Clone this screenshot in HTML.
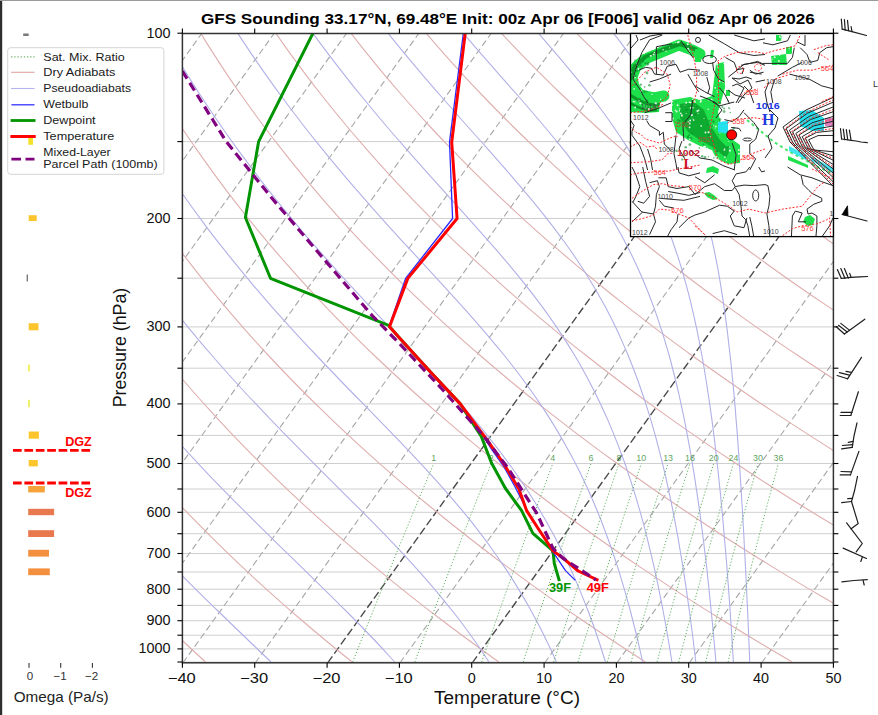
<!DOCTYPE html><html><head><meta charset="utf-8"><style>html,body{margin:0;padding:0;background:#fff;overflow:hidden}svg{display:block}text{font-family:"Liberation Sans",sans-serif}</style></head><body>
<svg width="878" height="715" viewBox="0 0 878 715">
<rect x="0" y="0" width="878" height="715" fill="#fff"/>
<defs><clipPath id="pc"><rect x="182.4" y="33.5" width="651" height="629.3"/></clipPath></defs>
<g clip-path="url(#pc)">
<line x1="182.4" y1="33.2" x2="833.4" y2="33.2" stroke="#cfcfcf" stroke-width="1"/>
<line x1="182.4" y1="141.6" x2="833.4" y2="141.6" stroke="#cfcfcf" stroke-width="1"/>
<line x1="182.4" y1="218.5" x2="833.4" y2="218.5" stroke="#cfcfcf" stroke-width="1"/>
<line x1="182.4" y1="278.2" x2="833.4" y2="278.2" stroke="#cfcfcf" stroke-width="1"/>
<line x1="182.4" y1="326.9" x2="833.4" y2="326.9" stroke="#cfcfcf" stroke-width="1"/>
<line x1="182.4" y1="368.2" x2="833.4" y2="368.2" stroke="#cfcfcf" stroke-width="1"/>
<line x1="182.4" y1="403.9" x2="833.4" y2="403.9" stroke="#cfcfcf" stroke-width="1"/>
<line x1="182.4" y1="435.4" x2="833.4" y2="435.4" stroke="#cfcfcf" stroke-width="1"/>
<line x1="182.4" y1="463.5" x2="833.4" y2="463.5" stroke="#cfcfcf" stroke-width="1"/>
<line x1="182.4" y1="489" x2="833.4" y2="489" stroke="#cfcfcf" stroke-width="1"/>
<line x1="182.4" y1="512.3" x2="833.4" y2="512.3" stroke="#cfcfcf" stroke-width="1"/>
<line x1="182.4" y1="533.7" x2="833.4" y2="533.7" stroke="#cfcfcf" stroke-width="1"/>
<line x1="182.4" y1="553.5" x2="833.4" y2="553.5" stroke="#cfcfcf" stroke-width="1"/>
<line x1="182.4" y1="572" x2="833.4" y2="572" stroke="#cfcfcf" stroke-width="1"/>
<line x1="182.4" y1="589.2" x2="833.4" y2="589.2" stroke="#cfcfcf" stroke-width="1"/>
<line x1="182.4" y1="605.4" x2="833.4" y2="605.4" stroke="#cfcfcf" stroke-width="1"/>
<line x1="182.4" y1="620.7" x2="833.4" y2="620.7" stroke="#cfcfcf" stroke-width="1"/>
<line x1="182.4" y1="635.2" x2="833.4" y2="635.2" stroke="#cfcfcf" stroke-width="1"/>
<line x1="182.4" y1="648.9" x2="833.4" y2="648.9" stroke="#cfcfcf" stroke-width="1"/>
<line x1="182.4" y1="662" x2="833.4" y2="662" stroke="#cfcfcf" stroke-width="1"/>
<line x1="-540.3" y1="662.8" x2="-87.6" y2="33.5" stroke="#a6a6a6" stroke-width="1.1" stroke-dasharray="6.5 3.5"/>
<line x1="-468" y1="662.8" x2="-15.3" y2="33.5" stroke="#a6a6a6" stroke-width="1.1" stroke-dasharray="6.5 3.5"/>
<line x1="-395.7" y1="662.8" x2="57.1" y2="33.5" stroke="#a6a6a6" stroke-width="1.1" stroke-dasharray="6.5 3.5"/>
<line x1="-323.3" y1="662.8" x2="129.4" y2="33.5" stroke="#a6a6a6" stroke-width="1.1" stroke-dasharray="6.5 3.5"/>
<line x1="-251" y1="662.8" x2="201.7" y2="33.5" stroke="#a6a6a6" stroke-width="1.1" stroke-dasharray="6.5 3.5"/>
<line x1="-178.7" y1="662.8" x2="274.1" y2="33.5" stroke="#a6a6a6" stroke-width="1.1" stroke-dasharray="6.5 3.5"/>
<line x1="-106.3" y1="662.8" x2="346.4" y2="33.5" stroke="#a6a6a6" stroke-width="1.1" stroke-dasharray="6.5 3.5"/>
<line x1="-34" y1="662.8" x2="418.7" y2="33.5" stroke="#a6a6a6" stroke-width="1.1" stroke-dasharray="6.5 3.5"/>
<line x1="38.3" y1="662.8" x2="491.1" y2="33.5" stroke="#a6a6a6" stroke-width="1.1" stroke-dasharray="6.5 3.5"/>
<line x1="110.7" y1="662.8" x2="563.4" y2="33.5" stroke="#a6a6a6" stroke-width="1.1" stroke-dasharray="6.5 3.5"/>
<line x1="183" y1="662.8" x2="635.7" y2="33.5" stroke="#a6a6a6" stroke-width="1.1" stroke-dasharray="6.5 3.5"/>
<line x1="255.3" y1="662.8" x2="708.1" y2="33.5" stroke="#a6a6a6" stroke-width="1.1" stroke-dasharray="6.5 3.5"/>
<line x1="327.7" y1="662.8" x2="780.4" y2="33.5" stroke="#4a4a4a" stroke-width="1.4" stroke-dasharray="8 3.3"/>
<line x1="400" y1="662.8" x2="852.7" y2="33.5" stroke="#a6a6a6" stroke-width="1.1" stroke-dasharray="6.5 3.5"/>
<line x1="472.3" y1="662.8" x2="925.1" y2="33.5" stroke="#4a4a4a" stroke-width="1.4" stroke-dasharray="8 3.3"/>
<line x1="544.7" y1="662.8" x2="997.4" y2="33.5" stroke="#a6a6a6" stroke-width="1.1" stroke-dasharray="6.5 3.5"/>
<line x1="617" y1="662.8" x2="1069.7" y2="33.5" stroke="#a6a6a6" stroke-width="1.1" stroke-dasharray="6.5 3.5"/>
<line x1="689.3" y1="662.8" x2="1142.1" y2="33.5" stroke="#a6a6a6" stroke-width="1.1" stroke-dasharray="6.5 3.5"/>
<line x1="761.7" y1="662.8" x2="1214.4" y2="33.5" stroke="#a6a6a6" stroke-width="1.1" stroke-dasharray="6.5 3.5"/>
<line x1="834" y1="662.8" x2="1286.7" y2="33.5" stroke="#a6a6a6" stroke-width="1.1" stroke-dasharray="6.5 3.5"/>
<polyline fill="none" stroke="#dfaeae" stroke-width="1.1" points="205.5,662 194.1,651.5 182.9,641 171.9,630.5 161.1,620 150.6,609.6 140.2,599.1 130,588.6 120.1,578.1 110.3,567.6 100.7,557.2 91.3,546.7 82.1,536.2 73.1,525.7 64.2,515.2 55.6,504.8 47.1,494.3 38.8,483.8 30.7,473.3 22.7,462.8 14.9,452.4 7.3,441.9 -0.1,431.4 -7.4,420.9 -14.5,410.4 -21.5,400 -28.3,389.5 -34.9,379 -41.4,368.5 -47.7,358 -53.8,347.6 -59.9,337.1 -65.7,326.6 -71.4,316.1 -77,305.6 -82.4,295.2 -87.7,284.7 -92.8,274.2 -97.8,263.7 -102.7,253.2 -107.4,242.8 -112,232.3 -116.4,221.8 -120.8,211.3 -124.9,200.8 -129,190.4 -132.9,179.9 -136.7,169.4 -140.4,158.9 -143.9,148.4 -147.4,138 -150.7,127.5 -153.8,117 -156.9,106.5 -159.9,96 -162.7,85.6 -165.4,75.1 -168,64.6 -170.5,54.1 -172.9,43.6 -175.1,33.2"/>
<polyline fill="none" stroke="#dfaeae" stroke-width="1.1" points="352.2,662 339.1,651.5 326.3,641 313.8,630.5 301.4,620 289.3,609.6 277.4,599.1 265.7,588.6 254.2,578.1 243,567.6 231.9,557.2 221.1,546.7 210.4,536.2 200,525.7 189.7,515.2 179.7,504.8 169.8,494.3 160.1,483.8 150.7,473.3 141.4,462.8 132.3,452.4 123.4,441.9 114.7,431.4 106.1,420.9 97.7,410.4 89.5,400 81.5,389.5 73.7,379 66,368.5 58.5,358 51.2,347.6 44,337.1 37,326.6 30.1,316.1 23.4,305.6 16.9,295.2 10.5,284.7 4.3,274.2 -1.8,263.7 -7.7,253.2 -13.5,242.8 -19.1,232.3 -24.6,221.8 -29.9,211.3 -35.1,200.8 -40.2,190.4 -45.1,179.9 -49.8,169.4 -54.5,158.9 -59,148.4 -63.3,138 -67.6,127.5 -71.7,117 -75.7,106.5 -79.5,96 -83.2,85.6 -86.8,75.1 -90.3,64.6 -93.6,54.1 -96.9,43.6 -100,33.2"/>
<polyline fill="none" stroke="#dfaeae" stroke-width="1.1" points="498.8,662 484.2,651.5 469.8,641 455.6,630.5 441.7,620 428,609.6 414.6,599.1 401.4,588.6 388.4,578.1 375.7,567.6 363.1,557.2 350.8,546.7 338.7,536.2 326.9,525.7 315.2,515.2 303.8,504.8 292.5,494.3 281.5,483.8 270.7,473.3 260.1,462.8 249.7,452.4 239.5,441.9 229.4,431.4 219.6,420.9 210,410.4 200.6,400 191.3,389.5 182.2,379 173.4,368.5 164.7,358 156.1,347.6 147.8,337.1 139.6,326.6 131.7,316.1 123.8,305.6 116.2,295.2 108.7,284.7 101.4,274.2 94.3,263.7 87.3,253.2 80.4,242.8 73.8,232.3 67.3,221.8 60.9,211.3 54.7,200.8 48.7,190.4 42.8,179.9 37,169.4 31.4,158.9 26,148.4 20.7,138 15.5,127.5 10.5,117 5.6,106.5 0.9,96 -3.8,85.6 -8.2,75.1 -12.6,64.6 -16.8,54.1 -20.9,43.6 -24.8,33.2"/>
<polyline fill="none" stroke="#dfaeae" stroke-width="1.1" points="645.5,662 629.3,651.5 613.3,641 597.5,630.5 582,620 566.8,609.6 551.8,599.1 537.1,588.6 522.6,578.1 508.3,567.6 494.3,557.2 480.6,546.7 467.1,536.2 453.8,525.7 440.7,515.2 427.9,504.8 415.3,494.3 402.9,483.8 390.7,473.3 378.8,462.8 367.1,452.4 355.5,441.9 344.2,431.4 333.1,420.9 322.3,410.4 311.6,400 301.1,389.5 290.8,379 280.7,368.5 270.8,358 261.1,347.6 251.6,337.1 242.3,326.6 233.2,316.1 224.3,305.6 215.5,295.2 206.9,284.7 198.5,274.2 190.3,263.7 182.2,253.2 174.4,242.8 166.7,232.3 159.1,221.8 151.8,211.3 144.6,200.8 137.5,190.4 130.6,179.9 123.9,169.4 117.4,158.9 110.9,148.4 104.7,138 98.6,127.5 92.7,117 86.9,106.5 81.2,96 75.7,85.6 70.4,75.1 65.1,64.6 60.1,54.1 55.1,43.6 50.3,33.2"/>
<polyline fill="none" stroke="#dfaeae" stroke-width="1.1" points="792.2,662 774.3,651.5 756.7,641 739.4,630.5 722.3,620 705.5,609.6 689,599.1 672.7,588.6 656.8,578.1 641,567.6 625.6,557.2 610.3,546.7 595.4,536.2 580.7,525.7 566.2,515.2 552,504.8 538,494.3 524.3,483.8 510.7,473.3 497.5,462.8 484.4,452.4 471.6,441.9 459,431.4 446.7,420.9 434.5,410.4 422.6,400 410.9,389.5 399.4,379 388.1,368.5 377,358 366.1,347.6 355.5,337.1 345,326.6 334.7,316.1 324.7,305.6 314.8,295.2 305.1,284.7 295.6,274.2 286.3,263.7 277.2,253.2 268.3,242.8 259.5,232.3 251,221.8 242.6,211.3 234.4,200.8 226.3,190.4 218.5,179.9 210.8,169.4 203.3,158.9 195.9,148.4 188.7,138 181.7,127.5 174.8,117 168.1,106.5 161.6,96 155.2,85.6 148.9,75.1 142.9,64.6 136.9,54.1 131.1,43.6 125.5,33.2"/>
<polyline fill="none" stroke="#dfaeae" stroke-width="1.1" points="938.9,662 919.4,651.5 900.2,641 881.2,630.5 862.6,620 844.3,609.6 826.2,599.1 808.4,588.6 790.9,578.1 773.7,567.6 756.8,557.2 740.1,546.7 723.7,536.2 707.6,525.7 691.7,515.2 676.1,504.8 660.7,494.3 645.6,483.8 630.8,473.3 616.2,462.8 601.8,452.4 587.7,441.9 573.8,431.4 560.2,420.9 546.8,410.4 533.6,400 520.7,389.5 507.9,379 495.5,368.5 483.2,358 471.1,347.6 459.3,337.1 447.7,326.6 436.3,316.1 425.1,305.6 414.1,295.2 403.3,284.7 392.8,274.2 382.4,263.7 372.2,253.2 362.2,242.8 352.4,232.3 342.8,221.8 333.4,211.3 324.2,200.8 315.2,190.4 306.3,179.9 297.7,169.4 289.2,158.9 280.9,148.4 272.7,138 264.8,127.5 257,117 249.4,106.5 241.9,96 234.6,85.6 227.5,75.1 220.6,64.6 213.8,54.1 207.1,43.6 200.7,33.2"/>
<polyline fill="none" stroke="#dfaeae" stroke-width="1.1" points="1085.6,662 1064.5,651.5 1043.6,641 1023.1,630.5 1002.9,620 983,609.6 963.4,599.1 944.1,588.6 925.1,578.1 906.4,567.6 888,557.2 869.9,546.7 852,536.2 834.5,525.7 817.2,515.2 800.2,504.8 783.5,494.3 767,483.8 750.8,473.3 734.9,462.8 719.2,452.4 703.8,441.9 688.6,431.4 673.7,420.9 659,410.4 644.6,400 630.4,389.5 616.5,379 602.8,368.5 589.4,358 576.1,347.6 563.1,337.1 550.4,326.6 537.8,316.1 525.5,305.6 513.4,295.2 501.5,284.7 489.9,274.2 478.4,263.7 467.2,253.2 456.1,242.8 445.3,232.3 434.7,221.8 424.3,211.3 414,200.8 404,190.4 394.2,179.9 384.5,169.4 375.1,158.9 365.8,148.4 356.8,138 347.9,127.5 339.2,117 330.6,106.5 322.3,96 314.1,85.6 306.1,75.1 298.3,64.6 290.6,54.1 283.1,43.6 275.8,33.2"/>
<polyline fill="none" stroke="#dfaeae" stroke-width="1.1" points="1232.3,662 1209.5,651.5 1187.1,641 1165,630.5 1143.2,620 1121.7,609.6 1100.6,599.1 1079.8,588.6 1059.3,578.1 1039.1,567.6 1019.2,557.2 999.6,546.7 980.4,536.2 961.4,525.7 942.7,515.2 924.3,504.8 906.2,494.3 888.4,483.8 870.8,473.3 853.6,462.8 836.6,452.4 819.8,441.9 803.4,431.4 787.2,420.9 771.3,410.4 755.6,400 740.2,389.5 725.1,379 710.2,368.5 695.5,358 681.1,347.6 667,337.1 653.1,326.6 639.4,316.1 625.9,305.6 612.7,295.2 599.7,284.7 587,274.2 574.5,263.7 562.2,253.2 550.1,242.8 538.2,232.3 526.5,221.8 515.1,211.3 503.9,200.8 492.8,190.4 482,179.9 471.4,169.4 461,158.9 450.8,148.4 440.8,138 430.9,127.5 421.3,117 411.9,106.5 402.6,96 393.6,85.6 384.7,75.1 376,64.6 367.5,54.1 359.1,43.6 351,33.2"/>
<polyline fill="none" stroke="#dfaeae" stroke-width="1.1" points="1379,662 1354.6,651.5 1330.5,641 1306.8,630.5 1283.5,620 1260.5,609.6 1237.8,599.1 1215.5,588.6 1193.5,578.1 1171.8,567.6 1150.4,557.2 1129.4,546.7 1108.7,536.2 1088.3,525.7 1068.2,515.2 1048.4,504.8 1028.9,494.3 1009.7,483.8 990.8,473.3 972.2,462.8 953.9,452.4 935.9,441.9 918.2,431.4 900.7,420.9 883.6,410.4 866.7,400 850,389.5 833.7,379 817.6,368.5 801.7,358 786.1,347.6 770.8,337.1 755.7,326.6 740.9,316.1 726.4,305.6 712,295.2 697.9,284.7 684.1,274.2 670.5,263.7 657.1,253.2 644,242.8 631.1,232.3 618.4,221.8 605.9,211.3 593.7,200.8 581.7,190.4 569.9,179.9 558.3,169.4 546.9,158.9 535.7,148.4 524.8,138 514,127.5 503.5,117 493.1,106.5 483,96 473,85.6 463.3,75.1 453.7,64.6 444.3,54.1 435.1,43.6 426.1,33.2"/>
<polyline fill="none" stroke="#dfaeae" stroke-width="1.1" points="1525.7,662 1499.6,651.5 1474,641 1448.7,630.5 1423.8,620 1399.2,609.6 1375,599.1 1351.1,588.6 1327.6,578.1 1304.5,567.6 1281.6,557.2 1259.2,546.7 1237,536.2 1215.2,525.7 1193.7,515.2 1172.5,504.8 1151.6,494.3 1131.1,483.8 1110.9,473.3 1090.9,462.8 1071.3,452.4 1052,441.9 1033,431.4 1014.3,420.9 995.8,410.4 977.7,400 959.8,389.5 942.2,379 924.9,368.5 907.9,358 891.1,347.6 874.6,337.1 858.4,326.6 842.5,316.1 826.8,305.6 811.3,295.2 796.2,284.7 781.2,274.2 766.5,263.7 752.1,253.2 737.9,242.8 724,232.3 710.2,221.8 696.8,211.3 683.5,200.8 670.5,190.4 657.7,179.9 645.2,169.4 632.8,158.9 620.7,148.4 608.8,138 597.1,127.5 585.7,117 574.4,106.5 563.3,96 552.5,85.6 541.9,75.1 531.4,64.6 521.2,54.1 511.1,43.6 501.3,33.2"/>
<polyline fill="none" stroke="#dfaeae" stroke-width="1.1" points="1672.4,662 1644.7,651.5 1617.4,641 1590.6,630.5 1564.1,620 1537.9,609.6 1512.2,599.1 1486.8,588.6 1461.8,578.1 1437.2,567.6 1412.9,557.2 1388.9,546.7 1365.3,536.2 1342.1,525.7 1319.2,515.2 1296.6,504.8 1274.4,494.3 1252.5,483.8 1230.9,473.3 1209.6,462.8 1188.7,452.4 1168.1,441.9 1147.8,431.4 1127.8,420.9 1108.1,410.4 1088.7,400 1069.6,389.5 1050.8,379 1032.3,368.5 1014.1,358 996.1,347.6 978.5,337.1 961.1,326.6 944,316.1 927.2,305.6 910.6,295.2 894.4,284.7 878.3,274.2 862.6,263.7 847.1,253.2 831.8,242.8 816.8,232.3 802.1,221.8 787.6,211.3 773.4,200.8 759.3,190.4 745.6,179.9 732,169.4 718.7,158.9 705.7,148.4 692.8,138 680.2,127.5 667.8,117 655.6,106.5 643.7,96 632,85.6 620.4,75.1 609.1,64.6 598,54.1 587.1,43.6 576.4,33.2"/>
<polyline fill="none" stroke="#dfaeae" stroke-width="1.1" points="1819,662 1789.8,651.5 1760.9,641 1732.4,630.5 1704.4,620 1676.7,609.6 1649.4,599.1 1622.5,588.6 1596,578.1 1569.8,567.6 1544.1,557.2 1518.7,546.7 1493.7,536.2 1469,525.7 1444.7,515.2 1420.7,504.8 1397.1,494.3 1373.8,483.8 1350.9,473.3 1328.3,462.8 1306.1,452.4 1284.2,441.9 1262.6,431.4 1241.3,420.9 1220.3,410.4 1199.7,400 1179.4,389.5 1159.4,379 1139.6,368.5 1120.2,358 1101.1,347.6 1082.3,337.1 1063.8,326.6 1045.6,316.1 1027.6,305.6 1010,295.2 992.6,284.7 975.5,274.2 958.6,263.7 942.1,253.2 925.8,242.8 909.7,232.3 894,221.8 878.4,211.3 863.2,200.8 848.2,190.4 833.4,179.9 818.9,169.4 804.6,158.9 790.6,148.4 776.8,138 763.3,127.5 750,117 736.9,106.5 724,96 711.4,85.6 699,75.1 686.8,64.6 674.9,54.1 663.1,43.6 651.6,33.2"/>
<polyline fill="none" stroke="#dfaeae" stroke-width="1.1" points="1965.7,662 1934.8,651.5 1904.3,641 1874.3,630.5 1844.6,620 1815.4,609.6 1786.6,599.1 1758.2,588.6 1730.2,578.1 1702.5,567.6 1675.3,557.2 1648.4,546.7 1622,536.2 1595.9,525.7 1570.2,515.2 1544.8,504.8 1519.8,494.3 1495.2,483.8 1470.9,473.3 1447,462.8 1423.5,452.4 1400.2,441.9 1377.3,431.4 1354.8,420.9 1332.6,410.4 1310.7,400 1289.2,389.5 1267.9,379 1247,368.5 1226.4,358 1206.1,347.6 1186.2,337.1 1166.5,326.6 1147.1,316.1 1128,305.6 1109.3,295.2 1090.8,284.7 1072.6,274.2 1054.7,263.7 1037,253.2 1019.7,242.8 1002.6,232.3 985.8,221.8 969.3,211.3 953,200.8 937,190.4 921.3,179.9 905.8,169.4 890.6,158.9 875.6,148.4 860.9,138 846.4,127.5 832.2,117 818.2,106.5 804.4,96 790.9,85.6 777.6,75.1 764.5,64.6 751.7,54.1 739.1,43.6 726.7,33.2"/>
<polyline fill="none" stroke="#b0b0e8" stroke-width="1.1" points="-138.1,33.2 -136.3,40.1 -134.5,47.1 -132.7,54.1 -130.8,61.1 -128.8,68.1 -126.8,75.1 -124.8,82.1 -122.7,89.1 -120.5,96 -118.3,103 -116.1,110 -113.8,117 -111.4,124 -109,131 -106.6,138 -104.1,144.9 -101.5,151.9 -98.9,158.9 -96.3,165.9 -93.5,172.9 -90.8,179.9 -87.9,186.9 -85,193.9 -82.1,200.8 -79.1,207.8 -76,214.8 -72.8,221.8 -69.6,228.8 -66.4,235.8 -63,242.8 -59.6,249.7 -56.1,256.7 -52.6,263.7 -49,270.7 -45.3,277.7 -41.6,284.7 -37.8,291.7 -33.9,298.7 -29.9,305.6 -25.9,312.6 -21.8,319.6 -17.6,326.6 -13.4,333.6 -9,340.6 -4.6,347.6 -0.2,354.5 4.4,361.5 9,368.5 13.7,375.5 18.5,382.5 23.4,389.5 28.4,396.5 33.4,403.4 38.5,410.4 43.7,417.4 48.9,424.4 54.3,431.4 59.7,438.4 65.2,445.4 70.8,452.4 76.5,459.3 82.2,466.3 88,473.3 94,480.3 99.9,487.3 106,494.3 112.1,501.3 118.4,508.2 124.7,515.2 131,522.2 137.5,529.2 144,536.2 150.6,543.2 157.3,550.2 164,557.2 170.8,564.1 177.7,571.1 184.6,578.1 191.6,585.1 198.6,592.1 205.7,599.1 212.9,606.1 220.1,613 227.3,620 234.5,627 241.8,634 249.1,641 256.4,648 263.7,655 271.1,662"/>
<polyline fill="none" stroke="#b0b0e8" stroke-width="1.1" points="-63,33.2 -60.6,40.1 -58.2,47.1 -55.8,54.1 -53.3,61.1 -50.8,68.1 -48.2,75.1 -45.6,82.1 -42.9,89.1 -40.2,96 -37.4,103 -34.5,110 -31.6,117 -28.7,124 -25.6,131 -22.6,138 -19.5,144.9 -16.3,151.9 -13,158.9 -9.7,165.9 -6.3,172.9 -2.9,179.9 0.6,186.9 4.1,193.9 7.8,200.8 11.4,207.8 15.2,214.8 19,221.8 22.9,228.8 26.9,235.8 30.9,242.8 35,249.7 39.2,256.7 43.4,263.7 47.7,270.7 52.1,277.7 56.6,284.7 61.2,291.7 65.8,298.7 70.5,305.6 75.3,312.6 80.1,319.6 85,326.6 90.1,333.6 95.2,340.6 100.3,347.6 105.6,354.5 110.9,361.5 116.4,368.5 121.9,375.5 127.5,382.5 133.1,389.5 138.9,396.5 144.7,403.4 150.6,410.4 156.6,417.4 162.7,424.4 168.9,431.4 175.1,438.4 181.4,445.4 187.8,452.4 194.3,459.3 200.8,466.3 207.4,473.3 214.1,480.3 220.9,487.3 227.7,494.3 234.6,501.3 241.5,508.2 248.5,515.2 255.5,522.2 262.6,529.2 269.7,536.2 276.8,543.2 284,550.2 291.2,557.2 298.4,564.1 305.6,571.1 312.7,578.1 319.9,585.1 327,592.1 334.1,599.1 341.1,606.1 348.1,613 355,620 361.9,627 368.6,634 375.3,641 381.9,648 388.3,655 394.7,662"/>
<polyline fill="none" stroke="#b0b0e8" stroke-width="1.1" points="12.2,33.2 15.1,40.1 18,47.1 21,54.1 24.1,61.1 27.2,68.1 30.4,75.1 33.6,82.1 36.9,89.1 40.2,96 43.6,103 47,110 50.5,117 54.1,124 57.7,131 61.4,138 65.2,144.9 69,151.9 72.9,158.9 76.8,165.9 80.9,172.9 84.9,179.9 89.1,186.9 93.3,193.9 97.6,200.8 101.9,207.8 106.4,214.8 110.9,221.8 115.4,228.8 120.1,235.8 124.8,242.8 129.6,249.7 134.5,256.7 139.5,263.7 144.5,270.7 149.6,277.7 154.8,284.7 160.1,291.7 165.4,298.7 170.8,305.6 176.4,312.6 181.9,319.6 187.6,326.6 193.4,333.6 199.2,340.6 205.1,347.6 211.2,354.5 217.2,361.5 223.4,368.5 229.6,375.5 236,382.5 242.3,389.5 248.8,396.5 255.4,403.4 262,410.4 268.6,417.4 275.4,424.4 282.1,431.4 289,438.4 295.9,445.4 302.8,452.4 309.8,459.3 316.8,466.3 323.8,473.3 330.8,480.3 337.8,487.3 344.8,494.3 351.8,501.3 358.8,508.2 365.7,515.2 372.6,522.2 379.5,529.2 386.3,536.2 393,543.2 399.6,550.2 406.1,557.2 412.5,564.1 418.8,571.1 425,578.1 431.1,585.1 437,592.1 442.8,599.1 448.5,606.1 454.1,613 459.5,620 464.7,627 469.9,634 474.8,641 479.7,648 484.4,655 489,662"/>
<polyline fill="none" stroke="#b0b0e8" stroke-width="1.1" points="87.4,33.2 90.8,40.1 94.3,47.1 97.9,54.1 101.5,61.1 105.2,68.1 108.9,75.1 112.8,82.1 116.6,89.1 120.5,96 124.5,103 128.6,110 132.7,117 136.9,124 141.1,131 145.5,138 149.8,144.9 154.3,151.9 158.8,158.9 163.4,165.9 168,172.9 172.8,179.9 177.6,186.9 182.4,193.9 187.4,200.8 192.4,207.8 197.5,214.8 202.7,221.8 207.9,228.8 213.3,235.8 218.7,242.8 224.2,249.7 229.7,256.7 235.4,263.7 241.1,270.7 246.9,277.7 252.7,284.7 258.7,291.7 264.7,298.7 270.8,305.6 277,312.6 283.3,319.6 289.6,326.6 296,333.6 302.5,340.6 309,347.6 315.6,354.5 322.2,361.5 328.9,368.5 335.6,375.5 342.3,382.5 349.1,389.5 355.9,396.5 362.8,403.4 369.6,410.4 376.4,417.4 383.2,424.4 390,431.4 396.8,438.4 403.5,445.4 410.2,452.4 416.7,459.3 423.3,466.3 429.7,473.3 436,480.3 442.3,487.3 448.4,494.3 454.4,501.3 460.3,508.2 466,515.2 471.7,522.2 477.1,529.2 482.5,536.2 487.7,543.2 492.8,550.2 497.7,557.2 502.5,564.1 507.2,571.1 511.7,578.1 516.1,585.1 520.3,592.1 524.5,599.1 528.5,606.1 532.3,613 536.1,620 539.8,627 543.3,634 546.7,641 550.1,648 553.3,655 556.4,662"/>
<polyline fill="none" stroke="#b0b0e8" stroke-width="1.1" points="162.5,33.2 166.5,40.1 170.6,47.1 174.7,54.1 178.9,61.1 183.2,68.1 187.5,75.1 191.9,82.1 196.4,89.1 200.9,96 205.5,103 210.1,110 214.9,117 219.7,124 224.5,131 229.4,138 234.4,144.9 239.5,151.9 244.7,158.9 249.9,165.9 255.2,172.9 260.5,179.9 266,186.9 271.5,193.9 277.1,200.8 282.7,207.8 288.5,214.8 294.3,221.8 300.1,228.8 306.1,235.8 312.1,242.8 318.2,249.7 324.4,256.7 330.6,263.7 336.9,270.7 343.2,277.7 349.6,284.7 356.1,291.7 362.6,298.7 369.1,305.6 375.7,312.6 382.3,319.6 388.9,326.6 395.5,333.6 402.1,340.6 408.8,347.6 415.4,354.5 421.9,361.5 428.5,368.5 435,375.5 441.4,382.5 447.8,389.5 454.1,396.5 460.3,403.4 466.4,410.4 472.4,417.4 478.2,424.4 484,431.4 489.6,438.4 495.1,445.4 500.5,452.4 505.8,459.3 510.9,466.3 515.8,473.3 520.6,480.3 525.3,487.3 529.9,494.3 534.3,501.3 538.6,508.2 542.7,515.2 546.7,522.2 550.6,529.2 554.4,536.2 558,543.2 561.6,550.2 565,557.2 568.3,564.1 571.6,571.1 574.7,578.1 577.7,585.1 580.6,592.1 583.4,599.1 586.2,606.1 588.9,613 591.4,620 594,627 596.4,634 598.8,641 601.1,648 603.3,655 605.5,662"/>
<polyline fill="none" stroke="#b0b0e8" stroke-width="1.1" points="237.7,33.2 242.2,40.1 246.9,47.1 251.6,54.1 256.4,61.1 261.2,68.1 266.1,75.1 271.1,82.1 276.1,89.1 281.2,96 286.4,103 291.6,110 297,117 302.3,124 307.8,131 313.3,138 318.9,144.9 324.6,151.9 330.3,158.9 336.1,165.9 342,172.9 347.9,179.9 353.9,186.9 360,193.9 366.1,200.8 372.2,207.8 378.5,214.8 384.7,221.8 391.1,228.8 397.4,235.8 403.8,242.8 410.2,249.7 416.7,256.7 423.1,263.7 429.6,270.7 436,277.7 442.4,284.7 448.8,291.7 455.2,298.7 461.5,305.6 467.8,312.6 474,319.6 480.1,326.6 486.1,333.6 492,340.6 497.8,347.6 503.6,354.5 509.1,361.5 514.6,368.5 519.9,375.5 525.1,382.5 530.2,389.5 535.1,396.5 539.9,403.4 544.5,410.4 549,417.4 553.4,424.4 557.6,431.4 561.7,438.4 565.7,445.4 569.6,452.4 573.3,459.3 576.9,466.3 580.4,473.3 583.7,480.3 587,487.3 590.1,494.3 593.2,501.3 596.1,508.2 599,515.2 601.8,522.2 604.4,529.2 607,536.2 609.6,543.2 612,550.2 614.4,557.2 616.7,564.1 618.9,571.1 621,578.1 623.1,585.1 625.2,592.1 627.1,599.1 629.1,606.1 630.9,613 632.7,620 634.5,627 636.2,634 637.9,641 639.5,648 641.1,655 642.6,662"/>
<polyline fill="none" stroke="#b0b0e8" stroke-width="1.1" points="312.8,33.2 317.9,40.1 323.1,47.1 328.4,54.1 333.7,61.1 339.1,68.1 344.6,75.1 350.1,82.1 355.7,89.1 361.4,96 367.1,103 372.9,110 378.7,117 384.6,124 390.6,131 396.6,138 402.7,144.9 408.8,151.9 415,158.9 421.2,165.9 427.4,172.9 433.7,179.9 440,186.9 446.3,193.9 452.6,200.8 458.9,207.8 465.2,214.8 471.5,221.8 477.7,228.8 483.9,235.8 490.1,242.8 496.1,249.7 502.1,256.7 508.1,263.7 513.9,270.7 519.6,277.7 525.2,284.7 530.7,291.7 536.1,298.7 541.4,305.6 546.5,312.6 551.4,319.6 556.3,326.6 560.9,333.6 565.5,340.6 569.9,347.6 574.1,354.5 578.3,361.5 582.3,368.5 586.1,375.5 589.8,382.5 593.4,389.5 596.9,396.5 600.3,403.4 603.5,410.4 606.7,417.4 609.7,424.4 612.6,431.4 615.4,438.4 618.2,445.4 620.8,452.4 623.4,459.3 625.9,466.3 628.2,473.3 630.6,480.3 632.8,487.3 635,494.3 637.1,501.3 639.1,508.2 641.1,515.2 643,522.2 644.9,529.2 646.7,536.2 648.4,543.2 650.1,550.2 651.8,557.2 653.4,564.1 655,571.1 656.5,578.1 658,585.1 659.4,592.1 660.8,599.1 662.2,606.1 663.5,613 664.8,620 666.1,627 667.3,634 668.5,641 669.7,648 670.8,655 671.9,662"/>
<polyline fill="none" stroke="#b0b0e8" stroke-width="1.1" points="388,33.2 393.6,40.1 399.3,47.1 405.1,54.1 410.9,61.1 416.8,68.1 422.7,75.1 428.7,82.1 434.7,89.1 440.8,96 446.9,103 453.1,110 459.2,117 465.4,124 471.6,131 477.9,138 484.1,144.9 490.3,151.9 496.5,158.9 502.6,165.9 508.7,172.9 514.7,179.9 520.7,186.9 526.6,193.9 532.5,200.8 538.2,207.8 543.8,214.8 549.3,221.8 554.7,228.8 559.9,235.8 565,242.8 570,249.7 574.9,256.7 579.5,263.7 584.1,270.7 588.5,277.7 592.7,284.7 596.8,291.7 600.8,298.7 604.6,305.6 608.3,312.6 611.9,319.6 615.3,326.6 618.6,333.6 621.8,340.6 624.8,347.6 627.8,354.5 630.6,361.5 633.4,368.5 636,375.5 638.6,382.5 641,389.5 643.4,396.5 645.7,403.4 647.9,410.4 650.1,417.4 652.1,424.4 654.1,431.4 656.1,438.4 657.9,445.4 659.7,452.4 661.5,459.3 663.2,466.3 664.9,473.3 666.5,480.3 668,487.3 669.5,494.3 671,501.3 672.4,508.2 673.8,515.2 675.1,522.2 676.4,529.2 677.7,536.2 678.9,543.2 680.1,550.2 681.3,557.2 682.5,564.1 683.6,571.1 684.6,578.1 685.7,585.1 686.7,592.1 687.7,599.1 688.7,606.1 689.7,613 690.6,620 691.5,627 692.4,634 693.3,641 694.1,648 695,655 695.8,662"/>
<polyline fill="none" stroke="#b0b0e8" stroke-width="1.1" points="463.1,33.2 469.2,40.1 475.2,47.1 481.3,54.1 487.5,61.1 493.6,68.1 499.7,75.1 505.9,82.1 512,89.1 518.2,96 524.3,103 530.3,110 536.3,117 542.3,124 548.2,131 553.9,138 559.6,144.9 565.2,151.9 570.7,158.9 576.1,165.9 581.3,172.9 586.4,179.9 591.3,186.9 596.1,193.9 600.8,200.8 605.2,207.8 609.6,214.8 613.8,221.8 617.8,228.8 621.7,235.8 625.4,242.8 629,249.7 632.5,256.7 635.8,263.7 639,270.7 642.1,277.7 645,284.7 647.9,291.7 650.6,298.7 653.2,305.6 655.7,312.6 658.1,319.6 660.4,326.6 662.7,333.6 664.8,340.6 666.9,347.6 668.9,354.5 670.8,361.5 672.6,368.5 674.4,375.5 676.1,382.5 677.8,389.5 679.4,396.5 680.9,403.4 682.4,410.4 683.9,417.4 685.3,424.4 686.6,431.4 687.9,438.4 689.2,445.4 690.5,452.4 691.7,459.3 692.8,466.3 694,473.3 695.1,480.3 696.1,487.3 697.2,494.3 698.2,501.3 699.2,508.2 700.2,515.2 701.1,522.2 702,529.2 702.9,536.2 703.8,543.2 704.6,550.2 705.5,557.2 706.3,564.1 707.1,571.1 707.8,578.1 708.6,585.1 709.3,592.1 710,599.1 710.7,606.1 711.4,613 712.1,620 712.8,627 713.4,634 714,641 714.7,648 715.3,655 715.9,662"/>
<polyline fill="none" stroke="#b0b0e8" stroke-width="1.1" points="538.3,33.2 544.4,40.1 550.4,47.1 556.4,54.1 562.4,61.1 568.2,68.1 574,75.1 579.8,82.1 585.4,89.1 590.9,96 596.3,103 601.5,110 606.6,117 611.6,124 616.4,131 621.1,138 625.6,144.9 630,151.9 634.2,158.9 638.2,165.9 642.1,172.9 645.9,179.9 649.4,186.9 652.9,193.9 656.2,200.8 659.3,207.8 662.3,214.8 665.2,221.8 668,228.8 670.6,235.8 673.1,242.8 675.5,249.7 677.9,256.7 680.1,263.7 682.2,270.7 684.2,277.7 686.1,284.7 688,291.7 689.8,298.7 691.5,305.6 693.1,312.6 694.7,319.6 696.2,326.6 697.7,333.6 699.1,340.6 700.4,347.6 701.7,354.5 703,361.5 704.2,368.5 705.3,375.5 706.5,382.5 707.5,389.5 708.6,396.5 709.6,403.4 710.6,410.4 711.6,417.4 712.5,424.4 713.4,431.4 714.3,438.4 715.1,445.4 715.9,452.4 716.7,459.3 717.5,466.3 718.3,473.3 719,480.3 719.7,487.3 720.5,494.3 721.1,501.3 721.8,508.2 722.5,515.2 723.1,522.2 723.7,529.2 724.3,536.2 724.9,543.2 725.5,550.2 726.1,557.2 726.7,564.1 727.2,571.1 727.7,578.1 728.3,585.1 728.8,592.1 729.3,599.1 729.8,606.1 730.3,613 730.7,620 731.2,627 731.7,634 732.1,641 732.5,648 733,655 733.4,662"/>
<polyline fill="none" stroke="#b0b0e8" stroke-width="1.1" points="613.4,33.2 618.9,40.1 624.1,47.1 629.3,54.1 634.3,61.1 639.1,68.1 643.8,75.1 648.3,82.1 652.7,89.1 656.9,96 660.9,103 664.8,110 668.5,117 672.1,124 675.5,131 678.7,138 681.8,144.9 684.8,151.9 687.6,158.9 690.3,165.9 692.9,172.9 695.3,179.9 697.6,186.9 699.8,193.9 701.9,200.8 703.9,207.8 705.9,214.8 707.7,221.8 709.4,228.8 711,235.8 712.6,242.8 714.1,249.7 715.5,256.7 716.9,263.7 718.2,270.7 719.4,277.7 720.6,284.7 721.7,291.7 722.8,298.7 723.8,305.6 724.8,312.6 725.8,319.6 726.7,326.6 727.6,333.6 728.4,340.6 729.2,347.6 730,354.5 730.8,361.5 731.5,368.5 732.2,375.5 732.9,382.5 733.5,389.5 734.2,396.5 734.8,403.4 735.4,410.4 735.9,417.4 736.5,424.4 737.1,431.4 737.6,438.4 738.1,445.4 738.6,452.4 739.1,459.3 739.6,466.3 740.1,473.3 740.5,480.3 741,487.3 741.4,494.3 741.8,501.3 742.3,508.2 742.7,515.2 743.1,522.2 743.5,529.2 743.9,536.2 744.2,543.2 744.6,550.2 745,557.2 745.3,564.1 745.7,571.1 746,578.1 746.4,585.1 746.7,592.1 747,599.1 747.4,606.1 747.7,613 748,620 748.3,627 748.6,634 748.9,641 749.2,648 749.5,655 749.7,662"/>
<polyline fill="none" stroke="#5fb05f" stroke-width="1" stroke-dasharray="1.2 2" points="352.7,662 356.6,652 360.5,642.1 364.5,632.2 368.5,622.3 372.5,612.4 376.5,602.4 380.5,592.5 384.5,582.6 388.5,572.7 392.6,562.8 396.6,552.8 400.7,542.9 404.8,533 408.9,523.1 413,513.1 417.1,503.2 421.2,493.3 425.4,483.4 429.5,473.5 433.7,463.5"/>
<polyline fill="none" stroke="#5fb05f" stroke-width="1" stroke-dasharray="1.2 2" points="414.8,662 418.5,652 422.2,642.1 425.9,632.2 429.7,622.3 433.4,612.4 437.2,602.4 440.9,592.5 444.7,582.6 448.5,572.7 452.3,562.8 456.2,552.8 460,542.9 463.8,533 467.7,523.1 471.6,513.1 475.5,503.2 479.4,493.3 483.3,483.4 487.2,473.5 491.2,463.5"/>
<polyline fill="none" stroke="#5fb05f" stroke-width="1" stroke-dasharray="1.2 2" points="481.7,662 485.1,652 488.5,642.1 492,632.2 495.4,622.3 498.9,612.4 502.4,602.4 505.9,592.5 509.4,582.6 513,572.7 516.5,562.8 520.1,552.8 523.7,542.9 527.3,533 530.9,523.1 534.5,513.1 538.1,503.2 541.8,493.3 545.5,483.4 549.1,473.5 552.8,463.5"/>
<polyline fill="none" stroke="#5fb05f" stroke-width="1" stroke-dasharray="1.2 2" points="523.2,662 526.4,652 529.7,642.1 532.9,632.2 536.2,622.3 539.5,612.4 542.8,602.4 546.2,592.5 549.5,582.6 552.9,572.7 556.3,562.8 559.7,552.8 563.1,542.9 566.5,533 570,523.1 573.4,513.1 576.9,503.2 580.4,493.3 583.9,483.4 587.4,473.5 591,463.5"/>
<polyline fill="none" stroke="#5fb05f" stroke-width="1" stroke-dasharray="1.2 2" points="553.7,662 556.8,652 559.9,642.1 563.1,632.2 566.2,622.3 569.4,612.4 572.6,602.4 575.8,592.5 579,582.6 582.3,572.7 585.5,562.8 588.8,552.8 592.1,542.9 595.4,533 598.7,523.1 602.1,513.1 605.4,503.2 608.8,493.3 612.2,483.4 615.6,473.5 619,463.5"/>
<polyline fill="none" stroke="#5fb05f" stroke-width="1" stroke-dasharray="1.2 2" points="578,662 581,652 584,642.1 587.1,632.2 590.1,622.3 593.2,612.4 596.3,602.4 599.4,592.5 602.5,582.6 605.6,572.7 608.8,562.8 612,552.8 615.2,542.9 618.4,533 621.6,523.1 624.8,513.1 628.1,503.2 631.4,493.3 634.7,483.4 638,473.5 641.3,463.5"/>
<polyline fill="none" stroke="#5fb05f" stroke-width="1" stroke-dasharray="1.2 2" points="607.3,662 610.2,652 613.1,642.1 616,632.2 618.9,622.3 621.8,612.4 624.8,602.4 627.8,592.5 630.8,582.6 633.8,572.7 636.8,562.8 639.9,552.8 642.9,542.9 646,533 649.1,523.1 652.3,513.1 655.4,503.2 658.6,493.3 661.7,483.4 664.9,473.5 668.1,463.5"/>
<polyline fill="none" stroke="#5fb05f" stroke-width="1" stroke-dasharray="1.2 2" points="631.1,662 633.8,652 636.6,642.1 639.4,632.2 642.2,622.3 645,612.4 647.9,602.4 650.8,592.5 653.7,582.6 656.6,572.7 659.5,562.8 662.5,552.8 665.4,542.9 668.4,533 671.4,523.1 674.5,513.1 677.5,503.2 680.6,493.3 683.7,483.4 686.8,473.5 689.9,463.5"/>
<polyline fill="none" stroke="#5fb05f" stroke-width="1" stroke-dasharray="1.2 2" points="657.1,662 659.7,652 662.4,642.1 665.1,632.2 667.8,622.3 670.5,612.4 673.2,602.4 676,592.5 678.8,582.6 681.6,572.7 684.4,562.8 687.2,552.8 690.1,542.9 693,533 695.9,523.1 698.8,513.1 701.7,503.2 704.7,493.3 707.7,483.4 710.7,473.5 713.7,463.5"/>
<polyline fill="none" stroke="#5fb05f" stroke-width="1" stroke-dasharray="1.2 2" points="678.8,662 681.3,652 683.9,642.1 686.4,632.2 689,622.3 691.7,612.4 694.3,602.4 697,592.5 699.7,582.6 702.4,572.7 705.1,562.8 707.8,552.8 710.6,542.9 713.4,533 716.2,523.1 719,513.1 721.9,503.2 724.7,493.3 727.6,483.4 730.5,473.5 733.4,463.5"/>
<polyline fill="none" stroke="#5fb05f" stroke-width="1" stroke-dasharray="1.2 2" points="705.7,662 708.1,652 710.6,642.1 713,632.2 715.5,622.3 718,612.4 720.5,602.4 723.1,592.5 725.6,582.6 728.2,572.7 730.8,562.8 733.5,552.8 736.1,542.9 738.8,533 741.5,523.1 744.2,513.1 746.9,503.2 749.7,493.3 752.4,483.4 755.2,473.5 758,463.5"/>
<polyline fill="none" stroke="#5fb05f" stroke-width="1" stroke-dasharray="1.2 2" points="728.1,662 730.4,652 732.8,642.1 735.1,632.2 737.5,622.3 739.9,612.4 742.3,602.4 744.7,592.5 747.2,582.6 749.7,572.7 752.2,562.8 754.7,552.8 757.3,542.9 759.8,533 762.4,523.1 765,513.1 767.7,503.2 770.3,493.3 773,483.4 775.7,473.5 778.4,463.5"/>
</g>
<text x="433.7" y="461.3" font-size="8.9" fill="#5fa55f" text-anchor="middle">1</text>
<text x="491.2" y="461.3" font-size="8.9" fill="#5fa55f" text-anchor="middle">2</text>
<text x="552.8" y="461.3" font-size="8.9" fill="#5fa55f" text-anchor="middle">4</text>
<text x="591" y="461.3" font-size="8.9" fill="#5fa55f" text-anchor="middle">6</text>
<text x="619" y="461.3" font-size="8.9" fill="#5fa55f" text-anchor="middle">8</text>
<text x="641.3" y="461.3" font-size="8.9" fill="#5fa55f" text-anchor="middle">10</text>
<text x="668.1" y="461.3" font-size="8.9" fill="#5fa55f" text-anchor="middle">13</text>
<text x="689.9" y="461.3" font-size="8.9" fill="#5fa55f" text-anchor="middle">16</text>
<text x="713.7" y="461.3" font-size="8.9" fill="#5fa55f" text-anchor="middle">20</text>
<text x="733.4" y="461.3" font-size="8.9" fill="#5fa55f" text-anchor="middle">24</text>
<text x="758" y="461.3" font-size="8.9" fill="#5fa55f" text-anchor="middle">30</text>
<text x="778.4" y="461.3" font-size="8.9" fill="#5fa55f" text-anchor="middle">36</text>
<g clip-path="url(#pc)" fill="none" stroke-linejoin="round">
<polyline stroke="#009400" stroke-width="3" points="312.8,33.5 258.6,141.7 245.4,217.5 270.5,278.3 388.6,325.4 400,338.5 430,371.5 460.1,403.6 481.3,436.4 491.4,462.8 505.2,488 521.6,510.6 532.9,533.3 553,550.9 554.3,563.5 559.4,581.1"/>
<polyline stroke="#2a2aff" stroke-width="1.3" points="463.3,33.5 449.5,142.2 452.6,218.5 405.6,278.4 389,326.8 400,338.5 430,371.5 460.1,403.6 484,437 491.3,449 504,467 515,486.7 526.3,509 540.3,531.5 552,550.5 565.5,570.6 575.3,580.4"/>
<polyline stroke="#ff0000" stroke-width="3" points="465.2,33.5 451.7,142.2 457.1,218.5 407.8,278.4 389.5,326.8 400,338.5 430,371.5 460.1,403.6 486.7,439.3 504,464 519,489.2 526.6,510.6 538,528.2 553,550.9 561.9,557.2 578.2,571 598.4,580.3"/>
<polyline stroke="#800080" stroke-width="3.2" stroke-dasharray="9 5" points="182.3,71 226.3,141.6 272.4,198.8 372.2,315.6 401.4,345.6 442,389 484,436.5 507.8,467.8 536.7,513.1 553,548.4 563.1,558.4 595.8,579.8"/>
</g>
<text x="560" y="592.4" font-size="12.8" font-weight="bold" fill="#009400" text-anchor="middle">39F</text>
<text x="597.7" y="592.4" font-size="12.8" font-weight="bold" fill="#ff0000" text-anchor="middle">49F</text>
<rect x="182.4" y="33.5" width="651" height="629.3" fill="none" stroke="#333" stroke-width="1.5"/>
<g stroke="#000" stroke-width="1.1">
<line x1="177.4" y1="33.2" x2="182.4" y2="33.2"/>
<line x1="833.4" y1="33.2" x2="838.4" y2="33.2"/>
<line x1="177.4" y1="141.6" x2="182.4" y2="141.6"/>
<line x1="833.4" y1="141.6" x2="838.4" y2="141.6"/>
<line x1="177.4" y1="218.5" x2="182.4" y2="218.5"/>
<line x1="833.4" y1="218.5" x2="838.4" y2="218.5"/>
<line x1="177.4" y1="278.2" x2="182.4" y2="278.2"/>
<line x1="833.4" y1="278.2" x2="838.4" y2="278.2"/>
<line x1="177.4" y1="326.9" x2="182.4" y2="326.9"/>
<line x1="833.4" y1="326.9" x2="838.4" y2="326.9"/>
<line x1="177.4" y1="368.2" x2="182.4" y2="368.2"/>
<line x1="833.4" y1="368.2" x2="838.4" y2="368.2"/>
<line x1="177.4" y1="403.9" x2="182.4" y2="403.9"/>
<line x1="833.4" y1="403.9" x2="838.4" y2="403.9"/>
<line x1="177.4" y1="435.4" x2="182.4" y2="435.4"/>
<line x1="833.4" y1="435.4" x2="838.4" y2="435.4"/>
<line x1="177.4" y1="463.5" x2="182.4" y2="463.5"/>
<line x1="833.4" y1="463.5" x2="838.4" y2="463.5"/>
<line x1="177.4" y1="489" x2="182.4" y2="489"/>
<line x1="833.4" y1="489" x2="838.4" y2="489"/>
<line x1="177.4" y1="512.3" x2="182.4" y2="512.3"/>
<line x1="833.4" y1="512.3" x2="838.4" y2="512.3"/>
<line x1="177.4" y1="533.7" x2="182.4" y2="533.7"/>
<line x1="833.4" y1="533.7" x2="838.4" y2="533.7"/>
<line x1="177.4" y1="553.5" x2="182.4" y2="553.5"/>
<line x1="833.4" y1="553.5" x2="838.4" y2="553.5"/>
<line x1="177.4" y1="572" x2="182.4" y2="572"/>
<line x1="833.4" y1="572" x2="838.4" y2="572"/>
<line x1="177.4" y1="589.2" x2="182.4" y2="589.2"/>
<line x1="833.4" y1="589.2" x2="838.4" y2="589.2"/>
<line x1="177.4" y1="605.4" x2="182.4" y2="605.4"/>
<line x1="833.4" y1="605.4" x2="838.4" y2="605.4"/>
<line x1="177.4" y1="620.7" x2="182.4" y2="620.7"/>
<line x1="833.4" y1="620.7" x2="838.4" y2="620.7"/>
<line x1="177.4" y1="635.2" x2="182.4" y2="635.2"/>
<line x1="833.4" y1="635.2" x2="838.4" y2="635.2"/>
<line x1="177.4" y1="648.9" x2="182.4" y2="648.9"/>
<line x1="833.4" y1="648.9" x2="838.4" y2="648.9"/>
<line x1="177.4" y1="662" x2="182.4" y2="662"/>
<line x1="833.4" y1="662" x2="838.4" y2="662"/>
<line x1="182.4" y1="662.8" x2="182.4" y2="667.8"/>
<line x1="182.4" y1="28.5" x2="182.4" y2="33.5"/>
<line x1="254.7" y1="662.8" x2="254.7" y2="667.8"/>
<line x1="254.7" y1="28.5" x2="254.7" y2="33.5"/>
<line x1="327.1" y1="662.8" x2="327.1" y2="667.8"/>
<line x1="327.1" y1="28.5" x2="327.1" y2="33.5"/>
<line x1="399.4" y1="662.8" x2="399.4" y2="667.8"/>
<line x1="399.4" y1="28.5" x2="399.4" y2="33.5"/>
<line x1="471.7" y1="662.8" x2="471.7" y2="667.8"/>
<line x1="471.7" y1="28.5" x2="471.7" y2="33.5"/>
<line x1="544.1" y1="662.8" x2="544.1" y2="667.8"/>
<line x1="544.1" y1="28.5" x2="544.1" y2="33.5"/>
<line x1="616.4" y1="662.8" x2="616.4" y2="667.8"/>
<line x1="616.4" y1="28.5" x2="616.4" y2="33.5"/>
<line x1="688.7" y1="662.8" x2="688.7" y2="667.8"/>
<line x1="688.7" y1="28.5" x2="688.7" y2="33.5"/>
<line x1="761.1" y1="662.8" x2="761.1" y2="667.8"/>
<line x1="761.1" y1="28.5" x2="761.1" y2="33.5"/>
<line x1="833.4" y1="662.8" x2="833.4" y2="667.8"/>
<line x1="833.4" y1="28.5" x2="833.4" y2="33.5"/>
</g>
<g font-size="14.4" fill="#111">
<text x="170.4" y="37.7" text-anchor="end">100</text>
<text x="170.4" y="223" text-anchor="end">200</text>
<text x="170.4" y="331.4" text-anchor="end">300</text>
<text x="170.4" y="408.4" text-anchor="end">400</text>
<text x="170.4" y="468" text-anchor="end">500</text>
<text x="170.4" y="516.8" text-anchor="end">600</text>
<text x="170.4" y="558" text-anchor="end">700</text>
<text x="170.4" y="593.7" text-anchor="end">800</text>
<text x="170.4" y="625.2" text-anchor="end">900</text>
<text x="170.4" y="653.4" text-anchor="end">1000</text>
<text x="167.8" y="682.8" textLength="28" lengthAdjust="spacingAndGlyphs">−40</text>
<text x="240.1" y="682.8" textLength="28" lengthAdjust="spacingAndGlyphs">−30</text>
<text x="312.5" y="682.8" textLength="28" lengthAdjust="spacingAndGlyphs">−20</text>
<text x="384.8" y="682.8" textLength="28" lengthAdjust="spacingAndGlyphs">−10</text>
<text x="471.7" y="682.8" text-anchor="middle">0</text>
<text x="544.1" y="682.8" text-anchor="middle">10</text>
<text x="616.4" y="682.8" text-anchor="middle">20</text>
<text x="688.7" y="682.8" text-anchor="middle">30</text>
<text x="761.1" y="682.8" text-anchor="middle">40</text>
<text x="833.4" y="682.8" text-anchor="middle">50</text>
</g>
<text x="434" y="704" font-size="17.6" fill="#111" textLength="146" lengthAdjust="spacingAndGlyphs">Temperature (°C)</text>
<text transform="translate(126.2,407.3) rotate(-90)" font-size="17.6" fill="#111" textLength="119.5" lengthAdjust="spacingAndGlyphs">Pressure (hPa)</text>
<text x="507.9" y="23.5" font-size="14" font-weight="bold" fill="#000" text-anchor="middle" textLength="614" lengthAdjust="spacingAndGlyphs">GFS Sounding 33.17°N, 69.48°E Init: 00z Apr 06 [F006] valid 06z Apr 06 2026</text>
<rect x="0" y="0" width="2.2" height="715" fill="#2e2e2e"/>
<rect x="0" y="0" width="878" height="1" fill="#9a9a9a"/>
<rect x="7.7" y="47.7" width="156.2" height="126.6" rx="3" ry="3" fill="#fff" fill-opacity="0.8" stroke="#d4d4d4" stroke-width="1"/>
<g font-size="11.6" fill="#1a1a1a">
<text x="43.3" y="60.6" textLength="81.4" lengthAdjust="spacingAndGlyphs">Sat. Mix. Ratio</text>
<text x="43.3" y="76.4" textLength="72" lengthAdjust="spacingAndGlyphs">Dry Adiabats</text>
<text x="43.3" y="92.4" textLength="87.7" lengthAdjust="spacingAndGlyphs">Pseudoadiabats</text>
<text x="43.3" y="108.1" textLength="45" lengthAdjust="spacingAndGlyphs">Wetbulb</text>
<text x="43.3" y="124.2" textLength="52.3" lengthAdjust="spacingAndGlyphs">Dewpoint</text>
<text x="43.3" y="140.2" textLength="71" lengthAdjust="spacingAndGlyphs">Temperature</text>
<text x="43.3" y="155.5" textLength="67.4" lengthAdjust="spacingAndGlyphs">Mixed-Layer</text>
<text x="43.3" y="167.5" textLength="114.4" lengthAdjust="spacingAndGlyphs">Parcel Path (100mb)</text>
</g>
<line x1="11" y1="56.8" x2="34.6" y2="56.8" stroke="#6db56d" stroke-width="1.2" stroke-dasharray="1.3 1.9"/>
<line x1="11" y1="72.3" x2="34.6" y2="72.3" stroke="#e3a6a6" stroke-width="1.1"/>
<line x1="11" y1="88.5" x2="34.6" y2="88.5" stroke="#b4b4ee" stroke-width="1.1"/>
<line x1="11.4" y1="104.8" x2="34.5" y2="104.8" stroke="#3333ff" stroke-width="1.3"/>
<line x1="10.6" y1="120.5" x2="35.5" y2="120.5" stroke="#009400" stroke-width="2.8"/>
<line x1="10.6" y1="136.5" x2="35.5" y2="136.5" stroke="#ff0000" stroke-width="2.8"/>
<line x1="11.4" y1="159.1" x2="34.5" y2="159.1" stroke="#800080" stroke-width="2.8" stroke-dasharray="9.6 4.5"/>
<rect x="23.2" y="33.5" width="5.5" height="2.5" fill="#7a7a7a"/>
<rect x="28.3" y="137.4" width="4.7" height="7.4" fill="#f0e22a"/>
<rect x="28.7" y="215.2" width="8" height="5.8" fill="#fdc52c"/>
<rect x="26.6" y="274.5" width="1.4" height="7" fill="#7a7a7a"/>
<rect x="28.7" y="323.2" width="9.8" height="7.1" fill="#fdc52c"/>
<rect x="28.2" y="364.5" width="1.5" height="7" fill="#ecec3a"/>
<rect x="28.2" y="399.8" width="1.5" height="7.4" fill="#ecec3a"/>
<rect x="28.7" y="431.5" width="10.2" height="7.2" fill="#fdc52c"/>
<rect x="28.7" y="460" width="9.1" height="6.4" fill="#fdc52c"/>
<rect x="28.2" y="486" width="16.6" height="6.4" fill="#f5a23a"/>
<rect x="28.2" y="508.8" width="25.9" height="6.4" fill="#e8784e"/>
<rect x="28.2" y="530.2" width="25.9" height="6.8" fill="#e8784e"/>
<rect x="28.2" y="549.8" width="20.8" height="6.8" fill="#f39040"/>
<rect x="28.2" y="568.4" width="21.6" height="6.8" fill="#f39040"/>
<line x1="10.6" y1="136.5" x2="35.5" y2="136.5" stroke="#ff0000" stroke-width="2.8"/>
<line x1="13" y1="450.3" x2="90.6" y2="450.3" stroke="#ff0000" stroke-width="2.8" stroke-dasharray="8.7 2.7"/>
<line x1="13" y1="483" x2="90.6" y2="483" stroke="#ff0000" stroke-width="2.8" stroke-dasharray="8.7 2.7"/>
<text x="65.2" y="445.8" font-size="12.8" font-weight="bold" fill="#ff0000" textLength="26.6" lengthAdjust="spacingAndGlyphs">DGZ</text>
<text x="65.2" y="496.8" font-size="12.8" font-weight="bold" fill="#ff0000" textLength="26.6" lengthAdjust="spacingAndGlyphs">DGZ</text>
<g stroke="#333" stroke-width="1.1">
<line x1="29" y1="663" x2="29" y2="667.8"/>
<line x1="60.7" y1="663" x2="60.7" y2="667.8"/>
<line x1="92.4" y1="663" x2="92.4" y2="667.8"/>
</g>
<g font-size="11.6" fill="#333" text-anchor="middle">
<text x="30" y="679.8">0</text><text x="60" y="679.8">−1</text><text x="91.6" y="679.8">−2</text>
</g>
<text x="13.7" y="702.4" font-size="13.9" fill="#222" textLength="95" lengthAdjust="spacingAndGlyphs">Omega (Pa/s)</text>
<defs><clipPath id="mc"><rect x="630.5" y="33.5" width="202.9" height="203.1"/></clipPath></defs>
<rect x="630.5" y="33.5" width="202.9" height="203.1" fill="#fff"/>
<g clip-path="url(#mc)">
<path d="M700,54 L690,49 L679,45 L662,52 L645,59 L636,67 L632,77 L634,87 L640,95 L654,98 L664,96" fill="none" stroke="#1ee04a" stroke-width="11" stroke-linejoin="round" stroke-linecap="round"/>
<path d="M697,50 L680,44 L662,50 L645,57 L634,68 L630,80" fill="none" stroke="#0a9a2a" stroke-width="4" stroke-linejoin="round"/>
<path d="M630,86 L645,96 L660,103 L659,112 L645,113 L630,112 Z" fill="#1ee04a"/>
<path d="M630,95 Q650,108 660,104" fill="none" stroke="#0a9a2a" stroke-width="3"/>
<path d="M630,103 Q645,112 657,110" fill="none" stroke="#0a9a2a" stroke-width="2.5"/>
<path d="M672,100 L690,97 L700,100 L712,96 L716,64 L724,62 L725,88 L718,112 L722,128 L733,140 L740,145 L740,163 L728,164 L716,158 L712,150 L700,146 L688,140 L676,132 L672,118 Z" fill="#1ee04a"/>
<path d="M680,104 L694,102 L704,110 L710,125 L720,140 L730,150 L726,158 L714,148 L700,140 L688,132 L680,118 Z" fill="#0a9a2a" fill-opacity="0.75"/>
<path d="M695,49 L701,49 L701,62 L695,62 Z M711,50 L714,50 L713,58 L710,58 Z M726,90 L730,90 L730,96 L726,96 Z" fill="#1ee04a"/>
<path d="M776,35 L782,35 L781,41 L776,41 Z M786,47 L792,47 L792,54 L786,54 Z M771,56 L786,54 L787,65 L772,65 Z" fill="#1ee04a"/>
<path d="M707,168 L713,166 L719,169 L718,174 L712,172 L706,173 Z M704,193 L709,192 L714,195 L718,199 L713,200 L707,197 Z M805,217 L810,215 L815,219 L813,225 L808,226 L803,222 Z" fill="#1ee04a"/>
<g fill="#fff" fill-opacity="0.85"><circle cx="653.3" cy="49.2" r="0.9"/><circle cx="635.2" cy="77.7" r="0.7"/><circle cx="634.2" cy="75.6" r="0.5"/><circle cx="661.2" cy="43.2" r="0.6"/><circle cx="660.6" cy="99.2" r="0.6"/><circle cx="646.1" cy="84.4" r="1.1"/><circle cx="671.6" cy="67.4" r="1.1"/><circle cx="633.4" cy="101.5" r="0.7"/><circle cx="640.4" cy="46.7" r="0.7"/><circle cx="688.8" cy="51.4" r="0.8"/><circle cx="676" cy="65.6" r="0.8"/><circle cx="634.5" cy="42.4" r="0.6"/><circle cx="679" cy="69.6" r="0.7"/><circle cx="672.2" cy="71.5" r="0.7"/><circle cx="687.2" cy="89.7" r="0.6"/><circle cx="671.4" cy="76.9" r="1"/><circle cx="682.5" cy="59.3" r="1.1"/><circle cx="638.5" cy="68.9" r="1"/><circle cx="640.9" cy="74.2" r="0.5"/><circle cx="678.1" cy="94.6" r="0.8"/><circle cx="693" cy="61.2" r="0.9"/><circle cx="672.8" cy="80.9" r="0.8"/><circle cx="690.5" cy="107.9" r="0.8"/><circle cx="677.8" cy="42.5" r="0.9"/><circle cx="676.6" cy="111.5" r="1"/><circle cx="650.5" cy="66.5" r="0.9"/><circle cx="631.6" cy="72.2" r="0.6"/><circle cx="638.4" cy="42.4" r="1"/><circle cx="639.3" cy="56.3" r="0.7"/><circle cx="692.7" cy="44" r="0.8"/><circle cx="669.6" cy="103.4" r="1"/><circle cx="692.2" cy="58.6" r="0.7"/><circle cx="655.8" cy="103.4" r="1.1"/><circle cx="640.9" cy="51" r="0.6"/><circle cx="646.8" cy="73.9" r="0.9"/><circle cx="648.9" cy="38.3" r="0.8"/><circle cx="656.6" cy="79.9" r="1.1"/><circle cx="679.7" cy="76.1" r="0.9"/><circle cx="678.7" cy="42" r="1"/><circle cx="686.2" cy="102.7" r="1"/><circle cx="658.3" cy="67.5" r="0.6"/><circle cx="675.7" cy="42.6" r="0.5"/><circle cx="645" cy="50" r="0.7"/><circle cx="633.8" cy="38" r="0.6"/><circle cx="637.3" cy="64.9" r="0.5"/><circle cx="693" cy="83.4" r="0.6"/><circle cx="648.2" cy="63.7" r="0.7"/><circle cx="638.8" cy="100.8" r="1.1"/><circle cx="663.6" cy="73.8" r="0.6"/><circle cx="637.4" cy="63.4" r="0.7"/><circle cx="689.7" cy="49.9" r="0.5"/><circle cx="698.5" cy="77.1" r="0.6"/><circle cx="669.1" cy="40" r="0.8"/><circle cx="700.5" cy="101.9" r="0.9"/><circle cx="648.8" cy="65.1" r="0.6"/><circle cx="685.6" cy="77.4" r="1"/><circle cx="653.7" cy="54.5" r="1"/><circle cx="700.9" cy="101.1" r="1"/><circle cx="688.9" cy="92.8" r="0.6"/><circle cx="667.3" cy="64.3" r="0.5"/><circle cx="632" cy="58.7" r="0.7"/><circle cx="679.9" cy="108.8" r="0.8"/><circle cx="697.5" cy="111.1" r="1.1"/><circle cx="656.3" cy="54.3" r="0.6"/><circle cx="644.2" cy="53.1" r="0.9"/><circle cx="694.8" cy="100.2" r="0.8"/><circle cx="677" cy="97.2" r="0.6"/><circle cx="677.6" cy="105.3" r="1"/><circle cx="684" cy="73.4" r="0.6"/><circle cx="686.8" cy="62.6" r="1"/><circle cx="700" cy="67.3" r="0.7"/><circle cx="698.2" cy="91.6" r="0.6"/><circle cx="639.1" cy="49.2" r="1"/><circle cx="688.1" cy="48.8" r="1"/><circle cx="700.6" cy="86.6" r="0.7"/><circle cx="669.5" cy="47.7" r="0.5"/><circle cx="699.9" cy="86.1" r="0.8"/><circle cx="697.2" cy="70.1" r="1"/><circle cx="689.5" cy="53.6" r="0.7"/><circle cx="651.1" cy="55.8" r="0.9"/><circle cx="648.7" cy="69" r="0.6"/><circle cx="695.5" cy="64.2" r="0.8"/><circle cx="672" cy="104.9" r="0.8"/><circle cx="696.1" cy="75.1" r="0.8"/><circle cx="667.7" cy="39.4" r="0.8"/><circle cx="643.2" cy="38.3" r="1"/><circle cx="642.4" cy="73" r="0.9"/><circle cx="670.1" cy="62.1" r="0.8"/><circle cx="670" cy="96" r="0.6"/><circle cx="670.3" cy="56.4" r="0.7"/><circle cx="685.6" cy="75.6" r="0.8"/><circle cx="684.7" cy="105.5" r="0.8"/><circle cx="674.1" cy="75.4" r="0.8"/><circle cx="679.9" cy="71.5" r="0.8"/><circle cx="664.4" cy="107.7" r="0.9"/><circle cx="693.1" cy="107.7" r="0.7"/><circle cx="670.3" cy="107.8" r="1"/><circle cx="639.9" cy="47" r="0.8"/><circle cx="635.2" cy="55.8" r="0.5"/><circle cx="678.2" cy="96" r="1"/><circle cx="641.1" cy="91" r="0.9"/><circle cx="640.3" cy="103.3" r="1.1"/><circle cx="645.8" cy="108.5" r="0.7"/><circle cx="665.1" cy="111.3" r="1"/><circle cx="641.6" cy="69.9" r="0.8"/><circle cx="654.4" cy="52.5" r="0.7"/><circle cx="682" cy="39.4" r="0.8"/><circle cx="661.7" cy="39.3" r="0.7"/><circle cx="674.9" cy="75.9" r="0.5"/><circle cx="700.9" cy="96.3" r="1.1"/><circle cx="637.5" cy="57.7" r="0.5"/><circle cx="686.1" cy="58" r="0.6"/><circle cx="660.4" cy="105.4" r="1"/><circle cx="648.6" cy="49.1" r="1.1"/><circle cx="671.1" cy="89.8" r="0.6"/><circle cx="634.1" cy="88.9" r="0.8"/><circle cx="635.2" cy="107.4" r="0.9"/><circle cx="687.7" cy="44.2" r="1"/><circle cx="634.8" cy="101.8" r="0.8"/><circle cx="654.4" cy="78.9" r="1.1"/><circle cx="649.3" cy="47.6" r="0.8"/><circle cx="647.2" cy="46.1" r="0.6"/><circle cx="633.6" cy="52.9" r="0.7"/><circle cx="652" cy="94.2" r="0.7"/><circle cx="666" cy="51.2" r="0.7"/><circle cx="631.3" cy="56.5" r="0.5"/><circle cx="682.8" cy="78.8" r="0.6"/><circle cx="664.2" cy="107.2" r="0.6"/><circle cx="689" cy="70" r="0.8"/><circle cx="690.1" cy="67.1" r="0.8"/><circle cx="679.5" cy="110.7" r="0.7"/><circle cx="689.9" cy="90.3" r="0.9"/><circle cx="659.1" cy="63.7" r="0.5"/><circle cx="639.3" cy="43.2" r="0.9"/><circle cx="648.4" cy="50.1" r="0.6"/><circle cx="690.6" cy="102.4" r="0.9"/><circle cx="650.3" cy="55.9" r="0.7"/><circle cx="663.1" cy="49.7" r="0.8"/><circle cx="649" cy="109.2" r="1.1"/><circle cx="669.4" cy="56.1" r="1.1"/><circle cx="693.7" cy="97.8" r="0.5"/><circle cx="698.7" cy="110.3" r="0.8"/><circle cx="686.1" cy="113.5" r="0.5"/><circle cx="690.5" cy="69.5" r="0.7"/><circle cx="674.9" cy="62.4" r="0.7"/><circle cx="688.3" cy="122.1" r="0.8"/><circle cx="724.5" cy="129.7" r="0.9"/><circle cx="733.5" cy="101.3" r="0.7"/><circle cx="740.9" cy="75.8" r="0.9"/><circle cx="717" cy="64.6" r="1"/><circle cx="734.4" cy="126.5" r="0.9"/><circle cx="728.9" cy="74.8" r="0.8"/><circle cx="707.3" cy="148.5" r="1"/><circle cx="729.8" cy="121.9" r="1"/><circle cx="719.8" cy="133.5" r="0.6"/><circle cx="674.2" cy="74.1" r="0.7"/><circle cx="679.3" cy="148.6" r="0.8"/><circle cx="715.9" cy="126.4" r="0.9"/><circle cx="706.3" cy="60.4" r="1"/><circle cx="724.4" cy="113.3" r="0.8"/><circle cx="718.2" cy="67" r="0.9"/><circle cx="689.7" cy="67.9" r="0.7"/><circle cx="723.1" cy="81.8" r="0.9"/><circle cx="740.3" cy="112.4" r="0.7"/><circle cx="705.5" cy="132.5" r="1"/><circle cx="715.2" cy="128.1" r="0.5"/><circle cx="682.3" cy="86.9" r="0.9"/><circle cx="693.3" cy="120.2" r="0.5"/><circle cx="676.2" cy="88.5" r="0.9"/><circle cx="720.5" cy="131.6" r="0.7"/><circle cx="708.2" cy="109.3" r="0.8"/><circle cx="680.3" cy="154.7" r="0.6"/><circle cx="740.5" cy="159.2" r="0.5"/><circle cx="704.1" cy="146.9" r="1.1"/><circle cx="703.5" cy="88.5" r="0.6"/><circle cx="738.2" cy="82.3" r="0.8"/><circle cx="681.9" cy="115.6" r="1.1"/><circle cx="681.3" cy="146.9" r="0.8"/><circle cx="734.1" cy="134.6" r="0.6"/><circle cx="734.8" cy="111.5" r="0.5"/><circle cx="672.3" cy="112.1" r="0.8"/><circle cx="693.1" cy="74.9" r="0.7"/><circle cx="694.1" cy="149.1" r="0.5"/><circle cx="724.6" cy="148.9" r="0.6"/><circle cx="736.8" cy="135.6" r="1"/><circle cx="692.3" cy="99.5" r="0.7"/><circle cx="741.9" cy="122.5" r="0.7"/><circle cx="702" cy="89.2" r="0.5"/><circle cx="679.1" cy="148.5" r="0.7"/><circle cx="737.5" cy="86.4" r="0.7"/><circle cx="707.8" cy="80.1" r="0.7"/><circle cx="738.9" cy="153.7" r="1"/><circle cx="716.2" cy="156.8" r="1.1"/><circle cx="710.4" cy="136.3" r="0.5"/><circle cx="723.3" cy="107.8" r="1"/><circle cx="717.1" cy="90.3" r="0.5"/><circle cx="736.9" cy="73.5" r="0.8"/><circle cx="696.1" cy="91.6" r="0.9"/><circle cx="740.3" cy="87.6" r="0.9"/><circle cx="693.1" cy="119.1" r="0.7"/><circle cx="683.7" cy="77.1" r="0.6"/><circle cx="735.4" cy="112.7" r="0.6"/><circle cx="735.4" cy="165.6" r="0.8"/><circle cx="681.8" cy="80.4" r="0.6"/><circle cx="695.9" cy="69.7" r="0.6"/><circle cx="690.1" cy="120.4" r="1"/><circle cx="724.5" cy="103.8" r="0.7"/><circle cx="708.7" cy="99.9" r="0.7"/><circle cx="676.3" cy="89.4" r="1.1"/><circle cx="680.8" cy="113.4" r="0.9"/><circle cx="732.4" cy="82.9" r="0.7"/><circle cx="689.4" cy="102.4" r="0.8"/><circle cx="738.8" cy="150" r="1"/><circle cx="673.5" cy="63.4" r="0.9"/><circle cx="734.7" cy="110.2" r="0.9"/><circle cx="672" cy="101.5" r="1.1"/><circle cx="729.8" cy="150.7" r="1.1"/><circle cx="689.4" cy="71.6" r="0.6"/><circle cx="708.6" cy="132.3" r="1.1"/><circle cx="722.5" cy="128.6" r="1"/><circle cx="704" cy="118.5" r="0.5"/><circle cx="726.8" cy="84.7" r="1.1"/><circle cx="717.2" cy="92.2" r="0.6"/><circle cx="689.6" cy="127.4" r="0.9"/><circle cx="679.8" cy="67.5" r="0.8"/><circle cx="712.8" cy="101.1" r="0.6"/><circle cx="714.1" cy="61.1" r="0.7"/><circle cx="704.2" cy="161.6" r="0.9"/><circle cx="733.9" cy="110.4" r="0.6"/><circle cx="689.3" cy="161.8" r="0.9"/><circle cx="693.5" cy="62.3" r="0.8"/><circle cx="719.2" cy="104.5" r="0.7"/><circle cx="718.7" cy="158.1" r="0.6"/><circle cx="674.4" cy="95.8" r="0.8"/><circle cx="719.8" cy="81" r="1"/><circle cx="723.7" cy="113.5" r="0.6"/><circle cx="739.9" cy="93" r="1"/><circle cx="688.2" cy="83.5" r="1"/><circle cx="692.6" cy="160.9" r="0.8"/><circle cx="685.1" cy="83.7" r="0.8"/><circle cx="718.6" cy="160.6" r="0.6"/><circle cx="699.5" cy="82.6" r="1.1"/><circle cx="681.9" cy="65.5" r="0.5"/><circle cx="699.5" cy="155.2" r="1"/><circle cx="723.3" cy="165.7" r="1.1"/><circle cx="695" cy="79.7" r="1.1"/><circle cx="724.2" cy="63.4" r="0.9"/><circle cx="698.5" cy="99.6" r="0.7"/><circle cx="683.8" cy="60.3" r="0.7"/><circle cx="696.6" cy="161.3" r="0.6"/><circle cx="739.5" cy="82" r="0.7"/><circle cx="729.5" cy="147.1" r="0.8"/><circle cx="675.4" cy="110.2" r="0.7"/><circle cx="736.4" cy="80.5" r="0.7"/><circle cx="734.8" cy="63.2" r="0.7"/><circle cx="728.8" cy="141.3" r="0.5"/><circle cx="674.4" cy="66.6" r="1.1"/><circle cx="690" cy="139.2" r="1"/><circle cx="695.7" cy="88.9" r="1.1"/><circle cx="715.2" cy="87.8" r="0.9"/><circle cx="694.2" cy="89.2" r="0.5"/><circle cx="724.9" cy="157.1" r="0.9"/><circle cx="738" cy="62.6" r="0.6"/><circle cx="705.3" cy="161.4" r="1.1"/><circle cx="699.1" cy="86.6" r="0.8"/><circle cx="706.5" cy="158.4" r="0.6"/><circle cx="728.2" cy="138.3" r="1"/><circle cx="726.1" cy="124.4" r="0.7"/><circle cx="694.4" cy="98.4" r="1"/><circle cx="677.5" cy="80.9" r="1"/><circle cx="689.3" cy="66.9" r="0.5"/><circle cx="710.7" cy="94.5" r="1.1"/><circle cx="733.8" cy="164.7" r="0.7"/><circle cx="677.9" cy="70.2" r="0.8"/><circle cx="721.7" cy="107.4" r="0.6"/><circle cx="701.2" cy="125.8" r="0.9"/><circle cx="724.4" cy="149.8" r="0.9"/><circle cx="680.5" cy="149.1" r="0.7"/><circle cx="711.7" cy="99.5" r="0.9"/><circle cx="685.9" cy="86.2" r="0.6"/><circle cx="682.7" cy="153.7" r="0.8"/><circle cx="694.8" cy="102" r="1.1"/><circle cx="707.5" cy="84.5" r="1"/><circle cx="717.7" cy="165" r="0.6"/><circle cx="705.2" cy="146.8" r="1"/><circle cx="736" cy="64.3" r="0.7"/><circle cx="680.3" cy="80.1" r="1.1"/><circle cx="712.8" cy="158.6" r="0.7"/><circle cx="732.6" cy="107.6" r="0.7"/><circle cx="726.4" cy="160.2" r="0.6"/><circle cx="713.7" cy="125.7" r="0.6"/><circle cx="697.8" cy="75" r="0.6"/><circle cx="689.8" cy="123.5" r="0.9"/><circle cx="686.2" cy="61.2" r="0.7"/><circle cx="719.5" cy="79.6" r="0.7"/><circle cx="686.2" cy="144.3" r="0.8"/><circle cx="676.4" cy="70.7" r="0.7"/><circle cx="710.5" cy="127.8" r="0.6"/><circle cx="683.5" cy="133.7" r="0.7"/><circle cx="691.8" cy="92.6" r="1.1"/><circle cx="693.9" cy="120.1" r="0.7"/><circle cx="701.2" cy="151.6" r="1.1"/><circle cx="697.5" cy="80.9" r="0.9"/><circle cx="686.3" cy="60.6" r="1"/><circle cx="701.7" cy="147" r="0.7"/><circle cx="733.8" cy="108.9" r="0.6"/><circle cx="673" cy="118.5" r="0.9"/><circle cx="735.7" cy="69.4" r="0.9"/><circle cx="698" cy="113.5" r="0.6"/><circle cx="691.8" cy="115.2" r="1.1"/><circle cx="770.9" cy="49.7" r="1"/><circle cx="794.1" cy="40.3" r="0.6"/><circle cx="793.5" cy="65.2" r="0.8"/><circle cx="769.4" cy="63.6" r="0.7"/><circle cx="792.4" cy="53.9" r="1"/><circle cx="772.3" cy="59.1" r="0.6"/><circle cx="778.9" cy="61.1" r="1"/><circle cx="772.9" cy="41" r="0.7"/><circle cx="782" cy="46.3" r="0.6"/><circle cx="774.7" cy="57.2" r="1"/><circle cx="769.1" cy="52" r="1"/><circle cx="769" cy="60.8" r="0.6"/><circle cx="784.2" cy="51.6" r="0.9"/><circle cx="776.3" cy="47.4" r="0.8"/><circle cx="779.5" cy="55.1" r="0.8"/><circle cx="779.8" cy="34.7" r="0.9"/><circle cx="781.2" cy="41.5" r="1"/><circle cx="789.1" cy="48.7" r="0.6"/><circle cx="780.8" cy="37.4" r="0.6"/><circle cx="779.6" cy="36.9" r="0.8"/><circle cx="781.8" cy="35.3" r="0.9"/><circle cx="770.2" cy="57.5" r="1"/><circle cx="781.8" cy="35.7" r="0.8"/><circle cx="778.2" cy="64.4" r="0.6"/><circle cx="791.1" cy="65.9" r="0.9"/></g>
<g fill="#0a8a2a" fill-opacity="0.6"><circle cx="724.1" cy="111.6" r="1.4"/><circle cx="705" cy="157.4" r="1.3"/><circle cx="685.7" cy="147.3" r="1.3"/><circle cx="679.9" cy="121.1" r="1.2"/><circle cx="685.4" cy="153.8" r="0.8"/><circle cx="724.1" cy="108.6" r="1"/><circle cx="730.3" cy="112.5" r="0.8"/><circle cx="705.9" cy="119.1" r="0.6"/><circle cx="686.7" cy="109.7" r="1.3"/><circle cx="716.1" cy="153.7" r="0.7"/><circle cx="722.3" cy="106.9" r="1"/><circle cx="713.5" cy="121.6" r="1.3"/><circle cx="708.8" cy="134.8" r="1.3"/><circle cx="682.2" cy="159.6" r="1.1"/><circle cx="699.3" cy="147.9" r="0.8"/><circle cx="734.4" cy="134.6" r="0.9"/><circle cx="721.1" cy="126.5" r="0.7"/><circle cx="719.9" cy="102.9" r="1.3"/><circle cx="691" cy="138.4" r="1.4"/><circle cx="710.6" cy="139.8" r="0.9"/><circle cx="676.1" cy="102" r="0.7"/><circle cx="712.3" cy="125.9" r="1"/><circle cx="728.8" cy="107.9" r="0.8"/><circle cx="714.5" cy="101.3" r="0.6"/><circle cx="696.9" cy="106.4" r="0.9"/><circle cx="689.2" cy="135" r="1.1"/><circle cx="688" cy="137.4" r="1"/><circle cx="684" cy="156.2" r="0.8"/><circle cx="684.8" cy="105.7" r="1.1"/><circle cx="727.4" cy="146.9" r="0.9"/><circle cx="691.6" cy="100.7" r="1.1"/><circle cx="709.2" cy="121" r="1.1"/><circle cx="702.2" cy="156.2" r="1.2"/><circle cx="690.7" cy="154.2" r="0.6"/><circle cx="707.4" cy="124.4" r="0.8"/><circle cx="679.4" cy="146.7" r="0.6"/><circle cx="708.5" cy="156.5" r="0.7"/><circle cx="687.8" cy="136.5" r="1"/><circle cx="713.9" cy="148.8" r="0.7"/><circle cx="694.3" cy="118" r="0.6"/><circle cx="728.5" cy="147" r="1.2"/><circle cx="676.4" cy="150.7" r="1.2"/><circle cx="703.5" cy="144.5" r="1"/><circle cx="689.3" cy="106.3" r="0.8"/><circle cx="678.3" cy="120.1" r="1.2"/><circle cx="717" cy="150.7" r="1.2"/><circle cx="691.7" cy="133.2" r="0.9"/><circle cx="722.5" cy="131.4" r="0.8"/><circle cx="713.9" cy="157.9" r="0.8"/><circle cx="727.9" cy="100.9" r="0.8"/><circle cx="689.9" cy="144.6" r="1.4"/><circle cx="720" cy="119.6" r="1.3"/><circle cx="695.4" cy="114.4" r="1.3"/><circle cx="713.2" cy="141.6" r="1.1"/><circle cx="733.8" cy="128.2" r="1.3"/><circle cx="717.2" cy="151.5" r="0.9"/><circle cx="718.8" cy="134.2" r="0.8"/><circle cx="688.5" cy="137.4" r="0.7"/><circle cx="729.7" cy="108.7" r="0.6"/><circle cx="682.3" cy="155.7" r="0.9"/><circle cx="634.6" cy="61.4" r="0.6"/><circle cx="644.5" cy="91.7" r="1.2"/><circle cx="645.3" cy="63.3" r="1.1"/><circle cx="638.5" cy="100.9" r="1.3"/><circle cx="648" cy="63.3" r="1.3"/><circle cx="648.5" cy="107.2" r="0.7"/><circle cx="635.7" cy="65.6" r="0.6"/><circle cx="647.3" cy="100.6" r="1.1"/><circle cx="646.9" cy="91.6" r="0.8"/><circle cx="633.8" cy="64.9" r="1.2"/><circle cx="635.7" cy="76" r="0.9"/><circle cx="632.4" cy="72.8" r="0.8"/><circle cx="644.9" cy="78.4" r="0.9"/><circle cx="649.4" cy="85.2" r="1.3"/><circle cx="643.1" cy="61.5" r="0.9"/><circle cx="639.9" cy="98.7" r="0.9"/><circle cx="644.7" cy="86.9" r="0.8"/><circle cx="647.5" cy="64.5" r="1.3"/><circle cx="635.1" cy="60.1" r="0.8"/><circle cx="645.7" cy="108.9" r="0.6"/><circle cx="640.8" cy="84.6" r="1.2"/><circle cx="635.3" cy="84.7" r="0.9"/><circle cx="647" cy="73" r="1.4"/><circle cx="637.1" cy="70.7" r="1.2"/><circle cx="641" cy="65.5" r="1.1"/></g>
<path d="M747,120 L774,142 L790,152 L820,168 L834,174" fill="none" stroke="#1ee04a" stroke-width="2" stroke-dasharray="3 3" stroke-opacity="0.8"/>
<path d="M799,111 L812,110 L824,118 L824,131 L812,131 L800,126 Z" fill="#22e0ee"/>
<path d="M825,118 L833,118 L833,126 L825,126 Z" fill="#e080c0"/>
<path d="M718,122 L728,121 L728,134 L718,132 Z" fill="#22e0ee"/>
<path d="M789,146 L806,155 L806,160 L789,151 Z M810,156 L833,168 L833,173 L812,161 Z" fill="#22e0ee" fill-opacity="0.85"/>
<path d="M788,156 L808,165 L808,168 L788,160 Z" fill="#1ee04a"/>
<g fill="none" stroke="#262626" stroke-width="1" stroke-linejoin="round">
<path d="M662.3,35 L649.6,39.9 L641.8,52.6 L636.9,65.3 L633,79 L640.8,90.8 L643.7,96.7 L648,103"/>
<path d="M656.4,74.1 L656.4,46.7 L672.1,43.8"/>
<path d="M638.8,70.2 L645.7,67.3 L651.5,68.3 L654.5,74.1 L663.3,75.1 L667.2,66.3 L676,64.3 L680,72.2 L688.8,69.2 L700,70.2"/>
<path d="M687.8,74.1 L694.6,85.9 L698.6,91.8"/>
<path d="M649.6,82 L659.4,79 L671.1,74.1"/>
<path d="M680.9,40.8 L693.7,58.5"/>
<path d="M631,48 L638,40 L636,35"/>
<path d="M708.7,35 L724.4,43.8 L739.1,52.6 L753.8,55.5 L765,54.5"/>
<path d="M734.2,35 L753.8,40.8 L765,38.9"/>
<path d="M712.6,62.4 L713.6,70.2 L718.5,79 L724.4,82"/>
<path d="M725.4,57.5 L734.2,62.4 L737.1,70.2 L728.3,77.1"/>
<path d="M737,70 L744,64.3 L757.7,62.4 L765,65.3"/>
<path d="M749.8,72.2 L761.6,74.1"/>
<path d="M695,85.9 L704.8,91.8 L714.6,96.7"/>
<path d="M706.8,77.1 L709.7,87.8 L707.7,93.7"/>
<path d="M732,78 L740,84 L748,80 L752,88 L744,95 L738,103"/>
<path d="M728,90 L735,95 L745,98"/>
<path d="M763,42.8 L772.8,44.8 L787.5,40.8 L790.4,35"/>
<path d="M805,35 L805,45.7 L797,41.8"/>
<path d="M800.2,47.7 L807,54.5 L810,62.4 L817.8,60.4 L819.8,52.6 L826.7,47.7 L833,46.7"/>
<path d="M763,63.4 L787.5,63.4 L792.4,57.5 L794.3,47.7"/>
<path d="M777.7,76.1 L792.4,67.3 L802.2,62.4"/>
<path d="M789.4,74.1 L809,79 L821.8,85.9 L833,88.8"/>
<path d="M768.9,82 L765,91.8 L767,103 L770,112"/>
<path d="M774.8,79 L770.8,91.8 L772.8,103"/>
<path d="M644.7,112.7 L659.4,107.8 L671.1,102.9"/>
<path d="M646.7,120.6 L649.6,125.5 L659.4,131.3 L659.4,135.3 L663.3,132.3 L664.3,144 L671.1,150.9"/>
<path d="M630,119.6 L634,125.5 L632,131.3 L632,135.3 L639.8,146 L644.7,158.8 L647.6,170"/>
<path d="M647.6,149 L650.6,158.8 L652.5,170"/>
<path d="M676,135.3 L674,153.9 L676,163.7 L677,170"/>
<path d="M681.9,141.1 L679,149 L684.8,158.8"/>
<path d="M683.9,141.1 L682.9,124.5 L690.7,114.7 L692.7,100"/>
<path d="M665.3,112.7 L672,112.7 L672,121.5 L665.3,121.5"/>
<path d="M712.6,102 L719.5,105.9 L734.2,102"/>
<path d="M744,109.8 L739.1,116.7 L732.2,121.5 L724.4,119.6"/>
<path d="M731.2,127.4 L739.1,128.4 L741,131.3"/>
<path d="M744,112.7 L753.8,122.5 L758.7,129.4 L755.7,139.2 L749.8,144 L749.8,153.9 L755.7,158.8 L749.8,170"/>
<path d="M732.2,143.1 L736.1,154.8 L734.2,170"/>
<path d="M632,167 L635.9,174.8 L639.8,186.6 L635.9,196.4 L632.9,202.3"/>
<path d="M642.7,167 L645.7,181.7 L649.6,196.4 L643.7,203.2 L637.8,201.3"/>
<path d="M632,201.3 L641.8,212 L653.5,214"/>
<path d="M642.7,212 L632,221.8"/>
<path d="M649.6,182.7 L657.4,180.7 L659.4,186.6 L656.4,194.4 L655.5,206.2 L653.5,214 L655.5,221.8 L649.6,234.6"/>
<path d="M658.4,177.8 L666.2,177.8 L668.2,186.6 L677,188.5 L688.8,186.6 L695,194.4 L704.8,186.6 L714.6,183.7 L724.4,190.5 L732.2,190.5 L735.2,186.6 L732.2,180.7 L736.1,173.9 L745.9,171.9 L749.8,167"/>
<path d="M668.2,191.5 L679,193.4 L688.8,195.4 L700,192.5"/>
<path d="M660.4,198.3 L671.1,199.3 L683.9,200.3 L700,196.4"/>
<path d="M659.4,200.3 L664.3,206.2 L674,208.1"/>
<path d="M667.2,237 L671.1,229.7 L677,221.8 L678,214"/>
<path d="M679,227.7 L688.8,218 L695,215 L704.8,212 L719.5,205.2 L727.3,206.2 L734.2,211.1 L730.3,216 L734.2,225.8 L744,227.7 L746.9,217.9"/>
<path d="M678,167 L679,172.9 L688.8,175.8 L700,172.9"/>
<path d="M735.2,186.6 L744,185.1 L753.8,185.6 L765,184.6 L767.9,185.6 L769.9,196.4 L768.9,206.2 L766.9,214 L768.9,225.8 L769.9,237"/>
<path d="M735.2,187.6 L739.1,194.4 L741,206.2 L742,216 L745.9,219.9 L747.9,225.8 L749.8,237"/>
<path d="M712.6,233.6 L724.4,230.7 L737.1,234.6"/>
<path d="M749.8,217 L751.8,225.8 L753.8,237"/>
<path d="M695,176.8 L704.8,182.7 L714.6,174.8"/>
<path d="M758.7,167 L761.6,171.9 L765,170.9"/>
<path d="M787.5,167 L800.2,174.8 L812,177.8 L821.8,181.7 L833,185.6"/>
<path d="M801.2,175.8 L803.2,184.6 L809,190.5 L812,193.4 L821.8,198.3 L821.8,201.3 L813.9,204.2 L807,209.1 L808,214 L812,213 L816.9,216 L816.9,225.8 L815.9,237"/>
<path d="M791.4,237 L792.4,216 L795.3,211.1 L802.2,213 L798.3,221.8 L806,221.8"/>
<path d="M821.8,237 L829.6,225.8 L833,217.9"/>
<path d="M741,65.3 L749.8,63.4 L757.7,61.4 L763.6,64.3"/>
<path d="M749.8,70.2 L755.7,74.1 L763.6,72.2"/>
<path d="M732.2,78 L739,79 L746,77 L751.8,79"/>
<path d="M732.2,86 L737.1,84 L744,88 L740,95.7 L736,103"/>
<path d="M744,86 L749.8,91.8 L753.8,103"/>
<path d="M755.7,82 L765,80"/>
<path d="M719.5,87.8 L724.4,93.7 L729.3,103"/>
<path d="M736,70 L744,68.3 L742,74.1"/>
<path d="M700,96 L708,99 L716,103 L722,110 L716,118"/>
<path d="M640,40 L650,36 L662,34"/>
<path d="M770,110 L778,118 L775,128 L768,136 L772,148 L765,158"/>
<path d="M690,150 L700,158 L712,160 L724,166 L735,170"/>
<path d="M834,97 L806,110 L783,127 L790,142 L834,187"/>
<path d="M834,101.8 L807.5,113.2 L786.2,128.6 L793,143 L834,182.6"/>
<path d="M834,106.6 L809,116.4 L789.4,130.2 L796,144 L834,178.2"/>
<path d="M834,111.4 L810.5,119.6 L792.6,131.8 L799,145 L834,173.8"/>
<path d="M834,116.2 L812,122.8 L795.8,133.4 L802,146 L834,169.4"/>
<path d="M834,121 L813.5,126 L799,135 L805,147 L834,165"/>
<path d="M834,125.8 L815,129.2 L802.2,136.6 L808,148 L834,160.6"/>
<path d="M834,130.6 L816.5,132.4 L805.4,138.2 L811,149 L834,156.2"/>
<path d="M834,135.4 L818,135.6 L808.6,139.8 L814,150 L834,151.8"/>
<circle cx="698" cy="39.9" r="2.5"/><ellipse cx="709.6" cy="59.5" rx="6.8" ry="4"/><ellipse cx="747.4" cy="139.5" rx="4.4" ry="1.5"/><ellipse cx="755.7" cy="195.5" rx="3" ry="5.5"/>
</g>
<g fill="none" stroke="#ff2a2a" stroke-width="1" stroke-dasharray="2 1.6" stroke-linejoin="round">
<path d="M632,85.9 L644.7,72.2 L656.4,67.3 L667.2,74.1 L670.2,84.9 L667.2,96.7 L659.4,103"/>
<path d="M687.8,35 L692.7,52.6 L696.6,72.2 L696.6,91.8 L693.7,103"/>
<path d="M717.5,61.4 L724.4,56.5 L736.1,52.6 L753.8,51.6 L765,53.6 L774.8,50.6 L787.5,47.7 L795.3,45.7 L800.2,35"/>
<path d="M741,95.7 L746,91.8 L758,89"/>
<path d="M718.5,62 L718.5,103"/>
<path d="M782.6,74.1 L797.3,70.2 L812,70.2 L823.7,67.3 L833,65.3"/>
<path d="M813.9,49.6 L825.7,45.7 L833,44.8"/>
<path d="M817.8,52.6 L829.6,60.4"/>
<path d="M764,87.8 L774.8,79 L787.5,75.1"/>
<path d="M821.8,101.6 L833,96.7"/>
<path d="M630,112.7 L647.6,110.8 L664.3,103.9"/>
<path d="M630,126.4 L635.9,132.3 L640.8,134.3 L645.7,139.2 L652.5,141.1 L659.4,143.1 L667.2,139.2 L675,136.2"/>
<path d="M630,147 L639.8,142.1 L646.7,147 L654.5,146 L657.4,150"/>
<path d="M630,162.7 L649.6,161.7 L662.3,159.7 L667.2,153.9 L674,152.9"/>
<path d="M676,121.5 L677,137.2"/>
<path d="M727.3,123.5 L732.2,119.6 L744,118.6 L753.8,117.6 L765,119.6"/>
<path d="M720.5,160.7 L729.3,164.6 L739.1,160.7 L748.9,154.8 L765,149"/>
<path d="M714.6,104.9 L709.7,129.4 L717.5,158.8"/>
<path d="M630,174.8 L639.8,172.9 L654.5,171.9 L669.2,171 L679,169 L700,165"/>
<path d="M632,198.3 L641.8,191.5 L653.5,184.6 L662.3,183.7 L671.1,185.6 L683.9,186.6"/>
<path d="M632,220.9 L644.7,218 L653.5,215 L659.4,209.1 L669.2,210.1 L688.8,218 L700,229.7 L706,236"/>
<path d="M695,190.5 L704.8,193.4 L719.5,200.3 L729.3,206.2 L737.1,212 L748.9,209.1 L765,213 L782.6,209.1 L802.2,206.2 L810,196.4 L817.8,186.6 L823.7,182.7"/>
<path d="M695,225.8 L704.8,234.6"/>
<path d="M782.6,235.6 L792.4,228.7 L802.2,225.8 L816.9,223.8 L826.7,219.9 L829.6,217.9 L830.6,237"/>
<path d="M812,169 L833,178.8"/>
<path d="M834,99.5 L807,112 L785,128.5 L792,143 L834,185"/>
<path d="M834,109.1 L810,118.4 L791.4,131.7 L798,145 L834,176.2"/>
<path d="M834,118.7 L813,124.8 L797.8,134.9 L804,147 L834,167.4"/>
<path d="M834,128.3 L816,131.2 L804.2,138.1 L810,149 L834,158.6"/>
<circle cx="740" cy="70" r="3.5"/><circle cx="758" cy="67.5" r="3.5"/>
</g>
<g font-size="7" fill="#444">
<text x="659.4" y="65.4">1006</text>
<text x="692.7" y="76.4">1008</text>
<text x="796.3" y="64.6">1006</text>
<text x="794.3" y="80.3">1002</text>
<text x="766" y="84.3">1008</text>
<text x="633" y="119.9">1012</text>
<text x="640.8" y="109.2">1014</text>
<text x="658.4" y="152.3">1008</text>
<text x="657.4" y="198.6">1010</text>
<text x="632" y="235.3">1012</text>
<text x="732.2" y="205.6">1012</text>
<text x="763" y="234">1010</text>
<text x="829.6" y="216.3">10</text>
</g>
<g font-size="7.5" fill="#ff4040">
<text x="746" y="95">558</text>
<text x="820.8" y="70.5">564</text>
<text x="732.2" y="124.2">558</text>
<text x="742" y="160">564</text>
<text x="653.5" y="174.6">564</text>
<text x="688.8" y="189.8">570</text>
<text x="671.1" y="213.3">576</text>
<text x="801.2" y="231">576</text>
</g>
<g font-size="7.5" fill="#a05a30"><text x="677" y="126.7">552</text><text x="698" y="142.4">552</text></g>
<circle cx="731.7" cy="134.8" r="5" fill="#ff0000" stroke="#000" stroke-width="0.8"/>
<text x="755.7" y="109.3" font-size="8.5" font-weight="bold" fill="#1a3adf" textLength="24" lengthAdjust="spacingAndGlyphs">1016</text>
<text x="762" y="125" font-size="16" font-weight="bold" fill="#1a3adf" font-family="Liberation Serif,serif" style="font-family:'Liberation Serif',serif">H</text>
<text x="677" y="156.3" font-size="9" font-weight="bold" fill="#c02030" textLength="23" lengthAdjust="spacingAndGlyphs">1002</text>
<text x="683.5" y="169" font-size="14" font-weight="bold" fill="#d01020" style="font-family:'Liberation Serif',serif">L</text>
</g>
<rect x="630.5" y="33.5" width="202.9" height="203.1" fill="none" stroke="#000" stroke-width="1.3"/>
<g fill="none" stroke="#1e1e1e" stroke-width="1.2" stroke-linecap="round" stroke-linejoin="round">
<path d="M842.2,29.1 L852,31.6 L866.5,35.5"/>
<path d="M842.2,29.1 L841.3,19"/>
<path d="M845.2,30.2 L844.4,19.6"/>
<path d="M848.6,30.7 L847.5,20.4"/>
<path d="M852,31.6 L851.1,26.5"/>
<path d="M841.6,139 L851.1,140.4 L856,141 L861,142 L867.3,142.7"/>
<path d="M841.6,139 L840.5,128.7"/>
<path d="M844.7,139.6 L843.3,129.2"/>
<path d="M847.7,139.6 L846.3,129.5"/>
<path d="M851.1,140.4 L849.4,130.1"/>
<path d="M842.2,214.5 L867,221"/>
<path d="M841.3,278.4 L851.1,277.3 L860,276.8 L867.6,276.5"/>
<path d="M841.3,278.4 L837.4,269.5"/>
<path d="M845,278.4 L840.8,268.6"/>
<path d="M848.3,278.1 L844.4,268.6"/>
<path d="M851.1,277.3 L849.7,273.4"/>
<path d="M844.4,334 L864.8,319.2"/>
<path d="M844.4,334 L836,326.5"/>
<path d="M847.2,332 L838.5,325.3"/>
<path d="M849.4,330.1 L840.8,323.4"/>
<path d="M847.5,378.8 L861.5,357.3"/>
<path d="M847.5,378.8 L837.1,375.5"/>
<path d="M849.4,375.2 L839.4,372.7"/>
<path d="M851.4,372.4 L846,371.3"/>
<path d="M850.8,415.5 L858.4,391.7"/>
<path d="M850.8,415.5 L840.2,415.5"/>
<path d="M851.9,412.4 L841,412.4"/>
<path d="M852.2,447.4 L854,436 L857,422.8"/>
<path d="M852.2,447.4 L841.6,448.8"/>
<path d="M852.8,444.6 L842.4,445.5"/>
<path d="M853.3,441.3 L848.3,442.4"/>
<path d="M850.5,474.9 L858.9,451.4"/>
<path d="M850.5,474.9 L840.2,474.9"/>
<path d="M851.4,471.8 L841,471.5"/>
<path d="M857.5,476.4 L854.7,490 L851.5,501.5 L858.2,523.6 L851.2,528.8"/>
<path d="M851.5,501.5 L841.7,502.6"/>
<path d="M852.6,498.4 L847.7,498.7"/>
<path d="M846.6,522.9 L862.3,543.5 L856.2,551.9"/>
<path d="M843.1,548.1 L866.5,558.5"/>
<path d="M862.3,557.3 L860.8,561.5"/>
<path d="M841.9,581.9 L854,580.5 L867.3,579.6"/>
<path d="M863.1,580.4 L864.2,585"/>
</g>
<path d="M842.2,214.5 L847.5,205.8 L848,215.6 Z" fill="#000" stroke="#000" stroke-width="0.8"/>
<text x="873" y="87" font-size="9" fill="#333">L</text>
</svg></body></html>
